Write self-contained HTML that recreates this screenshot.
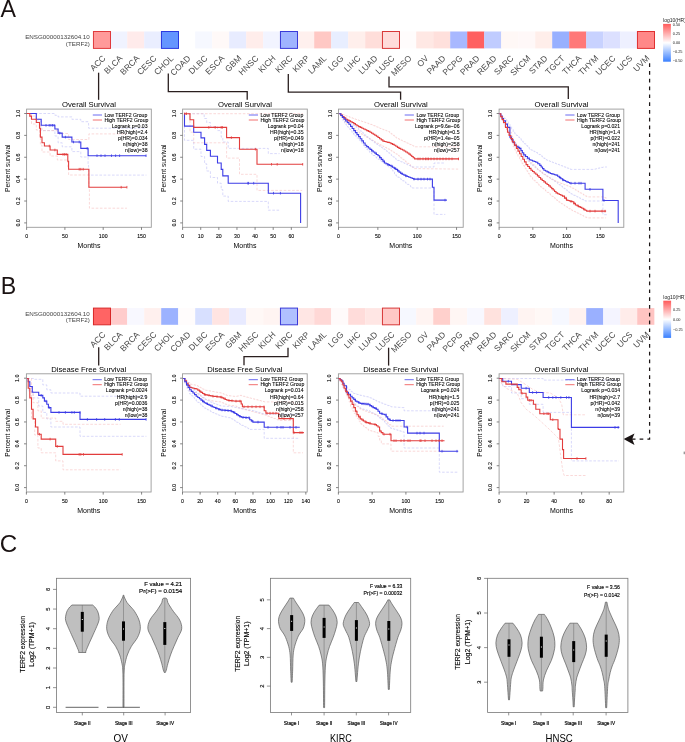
<!DOCTYPE html>
<html><head><meta charset="utf-8"><style>
html,body{margin:0;padding:0;background:#fff;width:685px;height:742px;overflow:hidden}
svg{display:block;font-family:"Liberation Sans", sans-serif;filter:blur(0.3px)}
</style></head><body>
<svg width="685" height="742" viewBox="0 0 685 742">
<rect width="685" height="742" fill="#fff"/>
<text x="0.6" y="16.6" font-size="23.2" fill="#1a1212">A</text>
<text x="0.8" y="293.9" font-size="23.2" fill="#1a1212">B</text>
<text x="-0.2" y="552.4" font-size="24.2" fill="#1a1212">C</text>
<rect x="93.2" y="31.5" width="17.15" height="16.9" fill="#FF9A9A"/>
<rect x="110.2" y="31.5" width="17.15" height="16.9" fill="#F0F3FF"/>
<rect x="127.2" y="31.5" width="17.15" height="16.9" fill="#FFEBEB"/>
<rect x="144.2" y="31.5" width="17.15" height="16.9" fill="#EAEEFF"/>
<rect x="161.2" y="31.5" width="17.15" height="16.9" fill="#6495FF"/>
<rect x="178.2" y="31.5" width="17.15" height="16.9" fill="#FFFFFF"/>
<rect x="195.2" y="31.5" width="17.15" height="16.9" fill="#F6F8FF"/>
<rect x="212.2" y="31.5" width="17.15" height="16.9" fill="#FFF9F8"/>
<rect x="229.2" y="31.5" width="17.15" height="16.9" fill="#E8ECFF"/>
<rect x="246.2" y="31.5" width="17.15" height="16.9" fill="#FFEDEB"/>
<rect x="263.2" y="31.5" width="17.15" height="16.9" fill="#F2F4FF"/>
<rect x="280.2" y="31.5" width="17.15" height="16.9" fill="#A0B4FF"/>
<rect x="297.2" y="31.5" width="17.15" height="16.9" fill="#FFF0EE"/>
<rect x="314.2" y="31.5" width="17.15" height="16.9" fill="#FFC8C4"/>
<rect x="331.2" y="31.5" width="17.15" height="16.9" fill="#E8EEFF"/>
<rect x="348.2" y="31.5" width="17.15" height="16.9" fill="#FFEFEC"/>
<rect x="365.2" y="31.5" width="17.15" height="16.9" fill="#FFDEDA"/>
<rect x="382.2" y="31.5" width="17.15" height="16.9" fill="#FFDCDA"/>
<rect x="399.2" y="31.5" width="17.15" height="16.9" fill="#FFFCFC"/>
<rect x="416.2" y="31.5" width="17.15" height="16.9" fill="#FFE8E4"/>
<rect x="433.2" y="31.5" width="17.15" height="16.9" fill="#FFE0DC"/>
<rect x="450.2" y="31.5" width="17.15" height="16.9" fill="#A8B8FF"/>
<rect x="467.2" y="31.5" width="17.15" height="16.9" fill="#FF6060"/>
<rect x="484.2" y="31.5" width="17.15" height="16.9" fill="#C0CCFF"/>
<rect x="501.2" y="31.5" width="17.15" height="16.9" fill="#FFF8F6"/>
<rect x="518.2" y="31.5" width="17.15" height="16.9" fill="#FFF8F8"/>
<rect x="535.2" y="31.5" width="17.15" height="16.9" fill="#FFEEEA"/>
<rect x="552.2" y="31.5" width="17.15" height="16.9" fill="#98B0FF"/>
<rect x="569.2" y="31.5" width="17.15" height="16.9" fill="#FF7878"/>
<rect x="586.2" y="31.5" width="17.15" height="16.9" fill="#C8D2FF"/>
<rect x="603.2" y="31.5" width="17.15" height="16.9" fill="#DCE0FF"/>
<rect x="620.2" y="31.5" width="17.15" height="16.9" fill="#EEF0FF"/>
<rect x="637.2" y="31.5" width="17.15" height="16.9" fill="#FF8888"/>
<rect x="93.45" y="31.5" width="17.05" height="16.9" fill="none" stroke="#E03A3C" stroke-width="1.0"/>
<rect x="161.45" y="31.5" width="17.05" height="16.9" fill="none" stroke="#2A3AE0" stroke-width="1.0"/>
<rect x="280.45" y="31.5" width="17.05" height="16.9" fill="none" stroke="#3A3AD8" stroke-width="1.0"/>
<rect x="382.45" y="31.5" width="17.05" height="16.9" fill="none" stroke="#D83838" stroke-width="1.0"/>
<rect x="637.45" y="31.5" width="17.05" height="16.9" fill="none" stroke="#E03030" stroke-width="1.0"/>
<text x="106.1" y="58.8" font-size="8.5" text-anchor="end" fill="#4a4a4a" transform="rotate(-45 106.1 58.8)">ACC</text>
<text x="123.1" y="58.8" font-size="8.5" text-anchor="end" fill="#4a4a4a" transform="rotate(-45 123.1 58.8)">BLCA</text>
<text x="140.1" y="58.8" font-size="8.5" text-anchor="end" fill="#4a4a4a" transform="rotate(-45 140.1 58.8)">BRCA</text>
<text x="157.1" y="58.8" font-size="8.5" text-anchor="end" fill="#4a4a4a" transform="rotate(-45 157.1 58.8)">CESC</text>
<text x="174.1" y="58.8" font-size="8.5" text-anchor="end" fill="#4a4a4a" transform="rotate(-45 174.1 58.8)">CHOL</text>
<text x="191.1" y="58.8" font-size="8.5" text-anchor="end" fill="#4a4a4a" transform="rotate(-45 191.1 58.8)">COAD</text>
<text x="208.1" y="58.8" font-size="8.5" text-anchor="end" fill="#4a4a4a" transform="rotate(-45 208.1 58.8)">DLBC</text>
<text x="225.1" y="58.8" font-size="8.5" text-anchor="end" fill="#4a4a4a" transform="rotate(-45 225.1 58.8)">ESCA</text>
<text x="242.1" y="58.8" font-size="8.5" text-anchor="end" fill="#4a4a4a" transform="rotate(-45 242.1 58.8)">GBM</text>
<text x="259.1" y="58.8" font-size="8.5" text-anchor="end" fill="#4a4a4a" transform="rotate(-45 259.1 58.8)">HNSC</text>
<text x="276.1" y="58.8" font-size="8.5" text-anchor="end" fill="#4a4a4a" transform="rotate(-45 276.1 58.8)">KICH</text>
<text x="293.1" y="58.8" font-size="8.5" text-anchor="end" fill="#4a4a4a" transform="rotate(-45 293.1 58.8)">KIRC</text>
<text x="310.1" y="58.8" font-size="8.5" text-anchor="end" fill="#4a4a4a" transform="rotate(-45 310.1 58.8)">KIRP</text>
<text x="327.1" y="58.8" font-size="8.5" text-anchor="end" fill="#4a4a4a" transform="rotate(-45 327.1 58.8)">LAML</text>
<text x="344.1" y="58.8" font-size="8.5" text-anchor="end" fill="#4a4a4a" transform="rotate(-45 344.1 58.8)">LGG</text>
<text x="361.1" y="58.8" font-size="8.5" text-anchor="end" fill="#4a4a4a" transform="rotate(-45 361.1 58.8)">LIHC</text>
<text x="378.1" y="58.8" font-size="8.5" text-anchor="end" fill="#4a4a4a" transform="rotate(-45 378.1 58.8)">LUAD</text>
<text x="395.1" y="58.8" font-size="8.5" text-anchor="end" fill="#4a4a4a" transform="rotate(-45 395.1 58.8)">LUSC</text>
<text x="412.1" y="58.8" font-size="8.5" text-anchor="end" fill="#4a4a4a" transform="rotate(-45 412.1 58.8)">MESO</text>
<text x="429.1" y="58.8" font-size="8.5" text-anchor="end" fill="#4a4a4a" transform="rotate(-45 429.1 58.8)">OV</text>
<text x="446.1" y="58.8" font-size="8.5" text-anchor="end" fill="#4a4a4a" transform="rotate(-45 446.1 58.8)">PAAD</text>
<text x="463.1" y="58.8" font-size="8.5" text-anchor="end" fill="#4a4a4a" transform="rotate(-45 463.1 58.8)">PCPG</text>
<text x="480.1" y="58.8" font-size="8.5" text-anchor="end" fill="#4a4a4a" transform="rotate(-45 480.1 58.8)">PRAD</text>
<text x="497.1" y="58.8" font-size="8.5" text-anchor="end" fill="#4a4a4a" transform="rotate(-45 497.1 58.8)">READ</text>
<text x="514.1" y="58.8" font-size="8.5" text-anchor="end" fill="#4a4a4a" transform="rotate(-45 514.1 58.8)">SARC</text>
<text x="531.1" y="58.8" font-size="8.5" text-anchor="end" fill="#4a4a4a" transform="rotate(-45 531.1 58.8)">SKCM</text>
<text x="548.1" y="58.8" font-size="8.5" text-anchor="end" fill="#4a4a4a" transform="rotate(-45 548.1 58.8)">STAD</text>
<text x="565.1" y="58.8" font-size="8.5" text-anchor="end" fill="#4a4a4a" transform="rotate(-45 565.1 58.8)">TGCT</text>
<text x="582.1" y="58.8" font-size="8.5" text-anchor="end" fill="#4a4a4a" transform="rotate(-45 582.1 58.8)">THCA</text>
<text x="599.1" y="58.8" font-size="8.5" text-anchor="end" fill="#4a4a4a" transform="rotate(-45 599.1 58.8)">THYM</text>
<text x="616.1" y="58.8" font-size="8.5" text-anchor="end" fill="#4a4a4a" transform="rotate(-45 616.1 58.8)">UCEC</text>
<text x="633.1" y="58.8" font-size="8.5" text-anchor="end" fill="#4a4a4a" transform="rotate(-45 633.1 58.8)">UCS</text>
<text x="650.1" y="58.8" font-size="8.5" text-anchor="end" fill="#4a4a4a" transform="rotate(-45 650.1 58.8)">UVM</text>
<text x="89.8" y="39.2" font-size="6.25" text-anchor="end" fill="#444">ENSG00000132604.10</text>
<text x="89.8" y="45.7" font-size="6.25" text-anchor="end" fill="#444">(TERF2)</text>
<rect x="93.2" y="308.1" width="17.15" height="16.7" fill="#FF6464"/>
<rect x="110.2" y="308.1" width="17.15" height="16.7" fill="#FFCCCC"/>
<rect x="127.2" y="308.1" width="17.15" height="16.7" fill="#F8F8FF"/>
<rect x="144.2" y="308.1" width="17.15" height="16.7" fill="#FFF0EE"/>
<rect x="161.2" y="308.1" width="17.15" height="16.7" fill="#9CB2FF"/>
<rect x="178.2" y="308.1" width="17.15" height="16.7" fill="#FFFCFC"/>
<rect x="195.2" y="308.1" width="17.15" height="16.7" fill="#D8E0FF"/>
<rect x="212.2" y="308.1" width="17.15" height="16.7" fill="#FFE4E2"/>
<rect x="229.2" y="308.1" width="17.15" height="16.7" fill="#E8EAFF"/>
<rect x="246.2" y="308.1" width="17.15" height="16.7" fill="#FFF8F6"/>
<rect x="263.2" y="308.1" width="17.15" height="16.7" fill="#FFF4F2"/>
<rect x="280.2" y="308.1" width="17.15" height="16.7" fill="#B0C0FF"/>
<rect x="297.2" y="308.1" width="17.15" height="16.7" fill="#FFE6E4"/>
<rect x="314.2" y="308.1" width="17.15" height="16.7" fill="#FFD8D6"/>
<rect x="331.2" y="308.1" width="17.15" height="16.7" fill="#FFFAFA"/>
<rect x="348.2" y="308.1" width="17.15" height="16.7" fill="#FFDCDA"/>
<rect x="365.2" y="308.1" width="17.15" height="16.7" fill="#FFE6E4"/>
<rect x="382.2" y="308.1" width="17.15" height="16.7" fill="#FFC8C6"/>
<rect x="399.2" y="308.1" width="17.15" height="16.7" fill="#F6F8FF"/>
<rect x="416.2" y="308.1" width="17.15" height="16.7" fill="#FFF4F2"/>
<rect x="433.2" y="308.1" width="17.15" height="16.7" fill="#FFD0CC"/>
<rect x="450.2" y="308.1" width="17.15" height="16.7" fill="#FFF6F4"/>
<rect x="467.2" y="308.1" width="17.15" height="16.7" fill="#F8F8FF"/>
<rect x="484.2" y="308.1" width="17.15" height="16.7" fill="#FFE2DE"/>
<rect x="501.2" y="308.1" width="17.15" height="16.7" fill="#EEF0FF"/>
<rect x="518.2" y="308.1" width="17.15" height="16.7" fill="#FFF4F2"/>
<rect x="535.2" y="308.1" width="17.15" height="16.7" fill="#FFF8F6"/>
<rect x="552.2" y="308.1" width="17.15" height="16.7" fill="#F6F8FF"/>
<rect x="569.2" y="308.1" width="17.15" height="16.7" fill="#FFF2F0"/>
<rect x="586.2" y="308.1" width="17.15" height="16.7" fill="#9AB0FF"/>
<rect x="603.2" y="308.1" width="17.15" height="16.7" fill="#F4F4FF"/>
<rect x="620.2" y="308.1" width="17.15" height="16.7" fill="#FFECEA"/>
<rect x="637.2" y="308.1" width="17.15" height="16.7" fill="#FFC4C2"/>
<rect x="93.45" y="308.1" width="17.05" height="16.7" fill="none" stroke="#D82828" stroke-width="1.0"/>
<rect x="280.45" y="308.1" width="17.05" height="16.7" fill="none" stroke="#3A3AD8" stroke-width="1.0"/>
<rect x="382.45" y="308.1" width="17.05" height="16.7" fill="none" stroke="#D83838" stroke-width="1.0"/>
<text x="106.1" y="335.2" font-size="8.5" text-anchor="end" fill="#4a4a4a" transform="rotate(-45 106.1 335.2)">ACC</text>
<text x="123.1" y="335.2" font-size="8.5" text-anchor="end" fill="#4a4a4a" transform="rotate(-45 123.1 335.2)">BLCA</text>
<text x="140.1" y="335.2" font-size="8.5" text-anchor="end" fill="#4a4a4a" transform="rotate(-45 140.1 335.2)">BRCA</text>
<text x="157.1" y="335.2" font-size="8.5" text-anchor="end" fill="#4a4a4a" transform="rotate(-45 157.1 335.2)">CESC</text>
<text x="174.1" y="335.2" font-size="8.5" text-anchor="end" fill="#4a4a4a" transform="rotate(-45 174.1 335.2)">CHOL</text>
<text x="191.1" y="335.2" font-size="8.5" text-anchor="end" fill="#4a4a4a" transform="rotate(-45 191.1 335.2)">COAD</text>
<text x="208.1" y="335.2" font-size="8.5" text-anchor="end" fill="#4a4a4a" transform="rotate(-45 208.1 335.2)">DLBC</text>
<text x="225.1" y="335.2" font-size="8.5" text-anchor="end" fill="#4a4a4a" transform="rotate(-45 225.1 335.2)">ESCA</text>
<text x="242.1" y="335.2" font-size="8.5" text-anchor="end" fill="#4a4a4a" transform="rotate(-45 242.1 335.2)">GBM</text>
<text x="259.1" y="335.2" font-size="8.5" text-anchor="end" fill="#4a4a4a" transform="rotate(-45 259.1 335.2)">HNSC</text>
<text x="276.1" y="335.2" font-size="8.5" text-anchor="end" fill="#4a4a4a" transform="rotate(-45 276.1 335.2)">KICH</text>
<text x="293.1" y="335.2" font-size="8.5" text-anchor="end" fill="#4a4a4a" transform="rotate(-45 293.1 335.2)">KIRC</text>
<text x="310.1" y="335.2" font-size="8.5" text-anchor="end" fill="#4a4a4a" transform="rotate(-45 310.1 335.2)">KIRP</text>
<text x="327.1" y="335.2" font-size="8.5" text-anchor="end" fill="#4a4a4a" transform="rotate(-45 327.1 335.2)">LAML</text>
<text x="344.1" y="335.2" font-size="8.5" text-anchor="end" fill="#4a4a4a" transform="rotate(-45 344.1 335.2)">LGG</text>
<text x="361.1" y="335.2" font-size="8.5" text-anchor="end" fill="#4a4a4a" transform="rotate(-45 361.1 335.2)">LIHC</text>
<text x="378.1" y="335.2" font-size="8.5" text-anchor="end" fill="#4a4a4a" transform="rotate(-45 378.1 335.2)">LUAD</text>
<text x="395.1" y="335.2" font-size="8.5" text-anchor="end" fill="#4a4a4a" transform="rotate(-45 395.1 335.2)">LUSC</text>
<text x="412.1" y="335.2" font-size="8.5" text-anchor="end" fill="#4a4a4a" transform="rotate(-45 412.1 335.2)">MESO</text>
<text x="429.1" y="335.2" font-size="8.5" text-anchor="end" fill="#4a4a4a" transform="rotate(-45 429.1 335.2)">OV</text>
<text x="446.1" y="335.2" font-size="8.5" text-anchor="end" fill="#4a4a4a" transform="rotate(-45 446.1 335.2)">PAAD</text>
<text x="463.1" y="335.2" font-size="8.5" text-anchor="end" fill="#4a4a4a" transform="rotate(-45 463.1 335.2)">PCPG</text>
<text x="480.1" y="335.2" font-size="8.5" text-anchor="end" fill="#4a4a4a" transform="rotate(-45 480.1 335.2)">PRAD</text>
<text x="497.1" y="335.2" font-size="8.5" text-anchor="end" fill="#4a4a4a" transform="rotate(-45 497.1 335.2)">READ</text>
<text x="514.1" y="335.2" font-size="8.5" text-anchor="end" fill="#4a4a4a" transform="rotate(-45 514.1 335.2)">SARC</text>
<text x="531.1" y="335.2" font-size="8.5" text-anchor="end" fill="#4a4a4a" transform="rotate(-45 531.1 335.2)">SKCM</text>
<text x="548.1" y="335.2" font-size="8.5" text-anchor="end" fill="#4a4a4a" transform="rotate(-45 548.1 335.2)">STAD</text>
<text x="565.1" y="335.2" font-size="8.5" text-anchor="end" fill="#4a4a4a" transform="rotate(-45 565.1 335.2)">TGCT</text>
<text x="582.1" y="335.2" font-size="8.5" text-anchor="end" fill="#4a4a4a" transform="rotate(-45 582.1 335.2)">THCA</text>
<text x="599.1" y="335.2" font-size="8.5" text-anchor="end" fill="#4a4a4a" transform="rotate(-45 599.1 335.2)">THYM</text>
<text x="616.1" y="335.2" font-size="8.5" text-anchor="end" fill="#4a4a4a" transform="rotate(-45 616.1 335.2)">UCEC</text>
<text x="633.1" y="335.2" font-size="8.5" text-anchor="end" fill="#4a4a4a" transform="rotate(-45 633.1 335.2)">UCS</text>
<text x="650.1" y="335.2" font-size="8.5" text-anchor="end" fill="#4a4a4a" transform="rotate(-45 650.1 335.2)">UVM</text>
<text x="89.8" y="315.8" font-size="6.25" text-anchor="end" fill="#444">ENSG00000132604.10</text>
<text x="89.8" y="322.3" font-size="6.25" text-anchor="end" fill="#444">(TERF2)</text>
<defs><linearGradient id="lg23" x1="0" y1="0" x2="0" y2="1"><stop offset="0" stop-color="#FF5A5A"/><stop offset="0.5" stop-color="#FFFFFF"/><stop offset="1" stop-color="#3A80FF"/></linearGradient></defs>
<rect x="663.1" y="23.9" width="7.8" height="37.8" fill="url(#lg23)"/>
<text x="672.7" y="26.1" font-size="3.9" fill="#222">0.50</text>
<text x="672.7" y="35.2" font-size="3.9" fill="#222">0.25</text>
<text x="672.7" y="44.1" font-size="3.9" fill="#222">0.00</text>
<text x="672.7" y="53" font-size="3.9" fill="#222">−0.25</text>
<text x="672.7" y="61.9" font-size="3.9" fill="#222">−0.50</text>
<text x="663.1" y="21.7" font-size="5" fill="#222">log10(HR)</text>
<defs><linearGradient id="lg300" x1="0" y1="0" x2="0" y2="1"><stop offset="0" stop-color="#FF5A5A"/><stop offset="0.5" stop-color="#FFFFFF"/><stop offset="1" stop-color="#3A80FF"/></linearGradient></defs>
<rect x="663.3" y="300.7" width="7.8" height="37.2" fill="url(#lg300)"/>
<text x="672.9" y="310.8" font-size="3.9" fill="#222">0.25</text>
<text x="672.9" y="320.6" font-size="3.9" fill="#222">0.00</text>
<text x="672.9" y="330.7" font-size="3.9" fill="#222">−0.25</text>
<text x="663.3" y="298.5" font-size="5" fill="#222">log10(HR)</text>
<polyline points="98.6,72.7 98.6,99.8" fill="none" stroke="#2a1f1f" stroke-width="1.3"/>
<polyline points="168.3,73.4 168.3,91.6 247.2,91.6 247.2,99.8" fill="none" stroke="#2a1f1f" stroke-width="1.3"/>
<polyline points="288.3,74 288.3,92.2 400.6,92.2 400.6,99.8" fill="none" stroke="#2a1f1f" stroke-width="1.3"/>
<polyline points="389,76.4 389,86.9 568.3,86.9 568.3,99" fill="none" stroke="#2a1f1f" stroke-width="1.3"/>
<polyline points="98.7,347.3 98.7,365.4" fill="none" stroke="#2a1f1f" stroke-width="1.3"/>
<polyline points="288,347.7 288,356.6 244,356.6 244,365.2" fill="none" stroke="#2a1f1f" stroke-width="1.3"/>
<polyline points="388.6,347.7 388.6,365.6" fill="none" stroke="#2a1f1f" stroke-width="1.3"/>
<polyline points="649.6,63.2 649.6,439.1 631,439.1" fill="none" stroke="#1a1414" stroke-width="1.25" stroke-dasharray="3.7,4.1"/>
<path d="M623.6,439.1 L634.5,433.4 L632.2,439.1 L634.5,445 Z" fill="#1a1414"/>
<rect x="26.6" y="109.1" width="124.7" height="118.2" fill="none" stroke="#9a9a9a" stroke-width="0.9"/>
<polyline points="26.6,113.5 54.9,113.5 54.9,115.3 58.1,115.3 58.1,116.9 71.9,116.9 71.9,119.3 80.8,119.3 80.8,121.7 88.1,121.7 88.1,123.4 88.6,123.4 88.6,128.2 146,128.2" fill="none" stroke="#c0c0f6" stroke-width="0.6" stroke-dasharray="2.6,1.6"/>
<polyline points="26.6,113.5 36.3,113.5 36.3,121 41.2,121 41.2,130.6 54.9,130.6 54.9,136 58.1,136 58.1,142.8 62.2,142.8 62.2,146.8 71.9,146.8 71.9,151.6 80.8,151.6 80.8,157 88.1,157 88.1,165.4 88.6,165.4 88.6,175.1 146.4,175.1" fill="none" stroke="#c0c0f6" stroke-width="0.6" stroke-dasharray="2.6,1.6"/>
<polyline points="26.6,113.5 31.5,113.5 31.5,116 36.3,116 36.3,119 39.5,119 39.5,124 40.4,124 40.4,128 42,128 42,130.6 57.3,130.6 57.3,133.5 68.6,133.5 68.6,139.5 88.9,139.5 88.9,133.9 126.9,133.9" fill="none" stroke="#f6c0c0" stroke-width="0.6" stroke-dasharray="2.6,1.6"/>
<polyline points="26.6,113.5 29.8,113.5 29.8,118 31.5,118 31.5,124 36.3,124 36.3,130 39.5,130 39.5,137 40.4,137 40.4,145 42,145 42,152 50.1,152 50.1,156 57.3,156 57.3,160 67.8,160 67.8,167 68.6,167 68.6,175 88.9,175 88.9,188 89.4,188 89.4,208.2 126.9,208.2" fill="none" stroke="#f6c0c0" stroke-width="0.6" stroke-dasharray="2.6,1.6"/>
<polyline points="26.6,113.5 36.3,113.5 36.3,119.3 41.2,119.3 41.2,125.3 54.9,125.3 54.9,129 58.1,129 58.1,133.1 62.2,133.1 62.2,137.1 71.9,137.1 71.9,142 80.8,142 80.8,148.4 88.1,148.4 88.1,155.7 146.2,155.7" fill="none" stroke="#3c3ce6" stroke-width="1.1"/>
<polyline points="26.6,113.5 29.8,113.5 29.8,116.1 31.5,116.1 31.5,119.3 36.3,119.3 36.3,122.5 39.5,122.5 39.5,128.2 40.4,128.2 40.4,137.1 42,137.1 42,142.8 44.4,142.8 44.4,146 50.1,146 50.1,150 57.3,150 57.3,154.4 67.8,154.4 67.8,161.3 68.6,161.3 68.6,169.2 88.9,169.2 88.9,187.2 126.9,187.2" fill="none" stroke="#e23c3c" stroke-width="1.1"/>
<line x1="46" y1="124" x2="46" y2="126.6" stroke="#3c3ce6" stroke-width="0.8"/>
<line x1="49.2" y1="124" x2="49.2" y2="126.6" stroke="#3c3ce6" stroke-width="0.8"/>
<line x1="50.9" y1="124" x2="50.9" y2="126.6" stroke="#3c3ce6" stroke-width="0.8"/>
<line x1="52.5" y1="124" x2="52.5" y2="126.6" stroke="#3c3ce6" stroke-width="0.8"/>
<line x1="54.1" y1="124" x2="54.1" y2="126.6" stroke="#3c3ce6" stroke-width="0.8"/>
<line x1="59.8" y1="131.8" x2="59.8" y2="134.4" stroke="#3c3ce6" stroke-width="0.8"/>
<line x1="65.4" y1="135.8" x2="65.4" y2="138.4" stroke="#3c3ce6" stroke-width="0.8"/>
<line x1="73.5" y1="140.7" x2="73.5" y2="143.3" stroke="#3c3ce6" stroke-width="0.8"/>
<line x1="79.2" y1="140.7" x2="79.2" y2="143.3" stroke="#3c3ce6" stroke-width="0.8"/>
<line x1="87.2" y1="147.1" x2="87.2" y2="149.7" stroke="#3c3ce6" stroke-width="0.8"/>
<line x1="97" y1="154.4" x2="97" y2="157" stroke="#3c3ce6" stroke-width="0.8"/>
<line x1="101" y1="154.4" x2="101" y2="157" stroke="#3c3ce6" stroke-width="0.8"/>
<line x1="105" y1="154.4" x2="105" y2="157" stroke="#3c3ce6" stroke-width="0.8"/>
<line x1="111.5" y1="154.4" x2="111.5" y2="157" stroke="#3c3ce6" stroke-width="0.8"/>
<line x1="115.6" y1="154.4" x2="115.6" y2="157" stroke="#3c3ce6" stroke-width="0.8"/>
<line x1="119.6" y1="154.4" x2="119.6" y2="157" stroke="#3c3ce6" stroke-width="0.8"/>
<line x1="146" y1="154.4" x2="146" y2="157" stroke="#3c3ce6" stroke-width="0.8"/>
<line x1="49.3" y1="144.7" x2="49.3" y2="147.3" stroke="#e23c3c" stroke-width="0.8"/>
<line x1="54.9" y1="148.7" x2="54.9" y2="151.3" stroke="#e23c3c" stroke-width="0.8"/>
<line x1="63" y1="153.1" x2="63" y2="155.7" stroke="#e23c3c" stroke-width="0.8"/>
<line x1="64.6" y1="153.1" x2="64.6" y2="155.7" stroke="#e23c3c" stroke-width="0.8"/>
<line x1="66.2" y1="153.1" x2="66.2" y2="155.7" stroke="#e23c3c" stroke-width="0.8"/>
<line x1="79.2" y1="167.9" x2="79.2" y2="170.5" stroke="#e23c3c" stroke-width="0.8"/>
<line x1="80.8" y1="167.9" x2="80.8" y2="170.5" stroke="#e23c3c" stroke-width="0.8"/>
<line x1="83.2" y1="167.9" x2="83.2" y2="170.5" stroke="#e23c3c" stroke-width="0.8"/>
<line x1="121.2" y1="185.9" x2="121.2" y2="188.5" stroke="#e23c3c" stroke-width="0.8"/>
<line x1="126.9" y1="185.9" x2="126.9" y2="188.5" stroke="#e23c3c" stroke-width="0.8"/>
<line x1="24.2" y1="222.9" x2="26.6" y2="222.9" stroke="#666" stroke-width="0.8"/>
<text x="19.7" y="222.9" font-size="5.3" text-anchor="middle" transform="rotate(-90 19.7 222.9)" stroke="#111" stroke-width="0.1">0.0</text>
<line x1="24.2" y1="201.02" x2="26.6" y2="201.02" stroke="#666" stroke-width="0.8"/>
<text x="19.7" y="201.02" font-size="5.3" text-anchor="middle" transform="rotate(-90 19.7 201.02)" stroke="#111" stroke-width="0.1">0.2</text>
<line x1="24.2" y1="179.14" x2="26.6" y2="179.14" stroke="#666" stroke-width="0.8"/>
<text x="19.7" y="179.14" font-size="5.3" text-anchor="middle" transform="rotate(-90 19.7 179.14)" stroke="#111" stroke-width="0.1">0.4</text>
<line x1="24.2" y1="157.26" x2="26.6" y2="157.26" stroke="#666" stroke-width="0.8"/>
<text x="19.7" y="157.26" font-size="5.3" text-anchor="middle" transform="rotate(-90 19.7 157.26)" stroke="#111" stroke-width="0.1">0.6</text>
<line x1="24.2" y1="135.38" x2="26.6" y2="135.38" stroke="#666" stroke-width="0.8"/>
<text x="19.7" y="135.38" font-size="5.3" text-anchor="middle" transform="rotate(-90 19.7 135.38)" stroke="#111" stroke-width="0.1">0.8</text>
<line x1="24.2" y1="113.5" x2="26.6" y2="113.5" stroke="#666" stroke-width="0.8"/>
<text x="19.7" y="113.5" font-size="5.3" text-anchor="middle" transform="rotate(-90 19.7 113.5)" stroke="#111" stroke-width="0.1">1.0</text>
<line x1="26.6" y1="227.3" x2="26.6" y2="229.9" stroke="#666" stroke-width="0.8"/>
<text x="26.6" y="238.4" font-size="5.2" text-anchor="middle" stroke="#111" stroke-width="0.1">0</text>
<line x1="64.9" y1="227.3" x2="64.9" y2="229.9" stroke="#666" stroke-width="0.8"/>
<text x="64.9" y="238.4" font-size="5.2" text-anchor="middle" stroke="#111" stroke-width="0.1">50</text>
<line x1="103.2" y1="227.3" x2="103.2" y2="229.9" stroke="#666" stroke-width="0.8"/>
<text x="103.2" y="238.4" font-size="5.2" text-anchor="middle" stroke="#111" stroke-width="0.1">100</text>
<line x1="141.5" y1="227.3" x2="141.5" y2="229.9" stroke="#666" stroke-width="0.8"/>
<text x="141.5" y="238.4" font-size="5.2" text-anchor="middle" stroke="#111" stroke-width="0.1">150</text>
<text x="88.95" y="248" font-size="7" text-anchor="middle" fill="#000">Months</text>
<text x="9.9" y="168.2" font-size="6.7" text-anchor="middle" fill="#000" transform="rotate(-90 9.9 168.2)">Percent survival</text>
<text x="88.95" y="106.8" font-size="7.7" text-anchor="middle">Overall Survival</text>
<line x1="92.8" y1="115" x2="102" y2="115" stroke="#5a5af0" stroke-width="0.9"/>
<line x1="92.8" y1="120" x2="102" y2="120" stroke="#f06060" stroke-width="0.9"/>
<text x="104.5" y="116.7" font-size="5.15" fill="#000" stroke="#000" stroke-width="0.08">Low TERF2 Group</text>
<text x="104.5" y="121.7" font-size="5.15" fill="#000" stroke="#000" stroke-width="0.08">High TERF2 Group</text>
<text x="147.6" y="127.7" font-size="5.15" text-anchor="end" fill="#000" stroke="#000" stroke-width="0.08">Logrank p=0.03</text>
<text x="147.6" y="133.8" font-size="5.15" text-anchor="end" fill="#000" stroke="#000" stroke-width="0.08">HR(high)=2.4</text>
<text x="147.6" y="139.9" font-size="5.15" text-anchor="end" fill="#000" stroke="#000" stroke-width="0.08">p(HR)=0.034</text>
<text x="147.6" y="146" font-size="5.15" text-anchor="end" fill="#000" stroke="#000" stroke-width="0.08">n(high)=38</text>
<text x="147.6" y="152.1" font-size="5.15" text-anchor="end" fill="#000" stroke="#000" stroke-width="0.08">n(low)=38</text>
<rect x="182.6" y="109.1" width="124.7" height="118.2" fill="none" stroke="#9a9a9a" stroke-width="0.9"/>
<polyline points="184,113.7 204.2,113.7 204.2,118.5 206.7,118.5 206.7,122.5 210.4,122.5 210.4,126.6 217.5,126.6 217.5,130.6 221.2,130.6 221.2,137.1 222.8,137.1 222.8,142 228.2,142 228.2,148.4 268.3,148.4 268.3,153.6 279.6,153.6" fill="none" stroke="#c0c0f6" stroke-width="0.6" stroke-dasharray="2.6,1.6"/>
<polyline points="184,113.7 184.5,113.7 184.5,140.3 193.7,140.3 193.7,149.2 201,149.2 201,156.5 204.6,156.5 204.6,163.8 206.7,163.8 206.7,171 210.4,171 210.4,177.5 217.5,177.5 217.5,183.2 221.2,183.2 221.2,189.6 222.8,189.6 222.8,196.1 228.2,196.1 228.2,201.4 268.3,201.4 268.3,210.2 279.6,210.2" fill="none" stroke="#c0c0f6" stroke-width="0.6" stroke-dasharray="2.6,1.6"/>
<polyline points="184,113.7 303,113.7" fill="none" stroke="#f6c0c0" stroke-width="0.6" stroke-dasharray="2.6,1.6"/>
<polyline points="184,113.7 190,113.7 190,132.2 193.7,132.2 193.7,142.8 226.6,142.8 226.6,158.1 239.5,158.1 239.5,174.3 257,174.3 257,190.4 302.2,190.4" fill="none" stroke="#f6c0c0" stroke-width="0.6" stroke-dasharray="2.6,1.6"/>
<polyline points="184,113.7 184.5,113.7 184.5,126.1 193.7,126.1 193.7,132.2 201,132.2 201,137.9 204.6,137.9 204.6,144.4 206.7,144.4 206.7,150.4 210.4,150.4 210.4,156.2 217.5,156.2 217.5,163 221.2,163 221.2,169.4 222.8,169.4 222.8,175.9 228.2,175.9 228.2,183.2 268.3,183.2 268.3,193.2 300.6,193.2 300.6,223.1 300.6,223.1" fill="none" stroke="#3c3ce6" stroke-width="1.1"/>
<polyline points="184,113.7 190,113.7 190,119.8 193.7,119.8 193.7,127.4 226.6,127.4 226.6,137.6 239.5,137.6 239.5,149.2 257,149.2 257,164.3 303,164.3" fill="none" stroke="#e23c3c" stroke-width="1.1"/>
<line x1="184.8" y1="112.4" x2="184.8" y2="115" stroke="#e23c3c" stroke-width="0.8"/>
<line x1="186.5" y1="112.4" x2="186.5" y2="115" stroke="#e23c3c" stroke-width="0.8"/>
<line x1="208.8" y1="126.1" x2="208.8" y2="128.7" stroke="#e23c3c" stroke-width="0.8"/>
<line x1="215.2" y1="126.1" x2="215.2" y2="128.7" stroke="#e23c3c" stroke-width="0.8"/>
<line x1="221.2" y1="126.1" x2="221.2" y2="128.7" stroke="#e23c3c" stroke-width="0.8"/>
<line x1="222.4" y1="126.1" x2="222.4" y2="128.7" stroke="#e23c3c" stroke-width="0.8"/>
<line x1="231.4" y1="136.3" x2="231.4" y2="138.9" stroke="#e23c3c" stroke-width="0.8"/>
<line x1="255.4" y1="147.9" x2="255.4" y2="150.5" stroke="#e23c3c" stroke-width="0.8"/>
<line x1="271.5" y1="163" x2="271.5" y2="165.6" stroke="#e23c3c" stroke-width="0.8"/>
<line x1="277.2" y1="163" x2="277.2" y2="165.6" stroke="#e23c3c" stroke-width="0.8"/>
<line x1="302.7" y1="163" x2="302.7" y2="165.6" stroke="#e23c3c" stroke-width="0.8"/>
<line x1="247.9" y1="181.9" x2="247.9" y2="184.5" stroke="#3c3ce6" stroke-width="0.8"/>
<line x1="248.4" y1="181.9" x2="248.4" y2="184.5" stroke="#3c3ce6" stroke-width="0.8"/>
<line x1="253.7" y1="181.9" x2="253.7" y2="184.5" stroke="#3c3ce6" stroke-width="0.8"/>
<line x1="273.5" y1="191.9" x2="273.5" y2="194.5" stroke="#3c3ce6" stroke-width="0.8"/>
<line x1="280.4" y1="191.9" x2="280.4" y2="194.5" stroke="#3c3ce6" stroke-width="0.8"/>
<line x1="180.2" y1="222.9" x2="182.6" y2="222.9" stroke="#666" stroke-width="0.8"/>
<text x="175.7" y="222.9" font-size="5.3" text-anchor="middle" transform="rotate(-90 175.7 222.9)" stroke="#111" stroke-width="0.1">0.0</text>
<line x1="180.2" y1="201.02" x2="182.6" y2="201.02" stroke="#666" stroke-width="0.8"/>
<text x="175.7" y="201.02" font-size="5.3" text-anchor="middle" transform="rotate(-90 175.7 201.02)" stroke="#111" stroke-width="0.1">0.2</text>
<line x1="180.2" y1="179.14" x2="182.6" y2="179.14" stroke="#666" stroke-width="0.8"/>
<text x="175.7" y="179.14" font-size="5.3" text-anchor="middle" transform="rotate(-90 175.7 179.14)" stroke="#111" stroke-width="0.1">0.4</text>
<line x1="180.2" y1="157.26" x2="182.6" y2="157.26" stroke="#666" stroke-width="0.8"/>
<text x="175.7" y="157.26" font-size="5.3" text-anchor="middle" transform="rotate(-90 175.7 157.26)" stroke="#111" stroke-width="0.1">0.6</text>
<line x1="180.2" y1="135.38" x2="182.6" y2="135.38" stroke="#666" stroke-width="0.8"/>
<text x="175.7" y="135.38" font-size="5.3" text-anchor="middle" transform="rotate(-90 175.7 135.38)" stroke="#111" stroke-width="0.1">0.8</text>
<line x1="180.2" y1="113.5" x2="182.6" y2="113.5" stroke="#666" stroke-width="0.8"/>
<text x="175.7" y="113.5" font-size="5.3" text-anchor="middle" transform="rotate(-90 175.7 113.5)" stroke="#111" stroke-width="0.1">1.0</text>
<line x1="182.6" y1="227.3" x2="182.6" y2="229.9" stroke="#666" stroke-width="0.8"/>
<text x="182.6" y="238.4" font-size="5.2" text-anchor="middle" stroke="#111" stroke-width="0.1">0</text>
<line x1="200.72" y1="227.3" x2="200.72" y2="229.9" stroke="#666" stroke-width="0.8"/>
<text x="200.72" y="238.4" font-size="5.2" text-anchor="middle" stroke="#111" stroke-width="0.1">10</text>
<line x1="218.84" y1="227.3" x2="218.84" y2="229.9" stroke="#666" stroke-width="0.8"/>
<text x="218.84" y="238.4" font-size="5.2" text-anchor="middle" stroke="#111" stroke-width="0.1">20</text>
<line x1="236.96" y1="227.3" x2="236.96" y2="229.9" stroke="#666" stroke-width="0.8"/>
<text x="236.96" y="238.4" font-size="5.2" text-anchor="middle" stroke="#111" stroke-width="0.1">30</text>
<line x1="255.08" y1="227.3" x2="255.08" y2="229.9" stroke="#666" stroke-width="0.8"/>
<text x="255.08" y="238.4" font-size="5.2" text-anchor="middle" stroke="#111" stroke-width="0.1">40</text>
<line x1="273.2" y1="227.3" x2="273.2" y2="229.9" stroke="#666" stroke-width="0.8"/>
<text x="273.2" y="238.4" font-size="5.2" text-anchor="middle" stroke="#111" stroke-width="0.1">50</text>
<line x1="291.32" y1="227.3" x2="291.32" y2="229.9" stroke="#666" stroke-width="0.8"/>
<text x="291.32" y="238.4" font-size="5.2" text-anchor="middle" stroke="#111" stroke-width="0.1">60</text>
<text x="244.95" y="248" font-size="7" text-anchor="middle" fill="#000">Months</text>
<text x="165.9" y="168.2" font-size="6.7" text-anchor="middle" fill="#000" transform="rotate(-90 165.9 168.2)">Percent survival</text>
<text x="244.95" y="106.8" font-size="7.7" text-anchor="middle">Overall Survival</text>
<line x1="248.8" y1="115" x2="258" y2="115" stroke="#5a5af0" stroke-width="0.9"/>
<line x1="248.8" y1="120" x2="258" y2="120" stroke="#f06060" stroke-width="0.9"/>
<text x="260.5" y="116.7" font-size="5.15" fill="#000" stroke="#000" stroke-width="0.08">Low TERF2 Group</text>
<text x="260.5" y="121.7" font-size="5.15" fill="#000" stroke="#000" stroke-width="0.08">High TERF2 Group</text>
<text x="303.6" y="127.7" font-size="5.15" text-anchor="end" fill="#000" stroke="#000" stroke-width="0.08">Logrank p=0.04</text>
<text x="303.6" y="133.8" font-size="5.15" text-anchor="end" fill="#000" stroke="#000" stroke-width="0.08">HR(high)=0.35</text>
<text x="303.6" y="139.9" font-size="5.15" text-anchor="end" fill="#000" stroke="#000" stroke-width="0.08">p(HR)=0.049</text>
<text x="303.6" y="146" font-size="5.15" text-anchor="end" fill="#000" stroke="#000" stroke-width="0.08">n(high)=18</text>
<text x="303.6" y="152.1" font-size="5.15" text-anchor="end" fill="#000" stroke="#000" stroke-width="0.08">n(low)=18</text>
<rect x="338.5" y="109.1" width="124.7" height="118.2" fill="none" stroke="#9a9a9a" stroke-width="0.9"/>
<polyline points="339.2,113.5 340.9,113.5 340.9,114.12 342.6,114.12 342.6,114.75 344.3,114.75 344.3,115.38 346,115.38 346,116 347.75,116 347.75,116.62 349.5,116.62 349.5,117.25 351.25,117.25 351.25,117.88 353,117.88 353,118.5 354.5,118.5 354.5,119 356,119 356,119.5 357.5,119.5 357.5,120 359,120 359,120.5 360.5,120.5 360.5,121 362,121 362,121.5 363.5,121.5 363.5,122 365.2,122 365.2,122.6 366.9,122.6 366.9,123.2 368.6,123.2 368.6,123.8 370.3,123.8 370.3,124.4 372,124.4 372,125 373.6,125 373.6,125.7 375.2,125.7 375.2,126.4 376.8,126.4 376.8,127.1 378.4,127.1 378.4,127.8 380,127.8 380,128.5 381.6,128.5 381.6,129.1 383.2,129.1 383.2,129.7 384.8,129.7 384.8,130.3 386.4,130.3 386.4,130.9 388,130.9 388,131.5 389.6,131.5 389.6,132.78 391.2,132.78 391.2,134.06 392.8,134.06 392.8,135.34 394.4,135.34 394.4,136.62 396,136.62 396,137.9 397.55,137.9 397.55,138.64 399.1,138.64 399.1,139.38 400.65,139.38 400.65,140.12 402.2,140.12 402.2,140.87 403.75,140.87 403.75,141.61 405.3,141.61 405.3,142.35 406.85,142.35 406.85,143.09 408.4,143.09 408.4,143.83 409.95,143.83 409.95,144.58 411.5,144.58 411.5,145.32 413.05,145.32 413.05,146.06 414.6,146.06 414.6,146.8 459,146.8" fill="none" stroke="#f6c0c0" stroke-width="0.6" stroke-dasharray="2.6,1.6"/>
<polyline points="339.2,113.5 340.65,113.5 340.65,115.62 342.1,115.62 342.1,117.75 343.55,117.75 343.55,119.88 345,119.88 345,122 346.75,122 346.75,123.25 348.5,123.25 348.5,124.5 350.25,124.5 350.25,125.75 352,125.75 352,127 353.5,127 353.5,128.25 355,128.25 355,129.5 356.5,129.5 356.5,130.75 358,130.75 358,132 359.75,132 359.75,133.12 361.5,133.12 361.5,134.25 363.25,134.25 363.25,135.38 365,135.38 365,136.5 366.75,136.5 366.75,137.5 368.5,137.5 368.5,138.5 370.25,138.5 370.25,139.5 372,139.5 372,140.5 373.6,140.5 373.6,141.4 375.2,141.4 375.2,142.3 376.8,142.3 376.8,143.2 378.4,143.2 378.4,144.1 380,144.1 380,145 381.6,145 381.6,145.8 383.2,145.8 383.2,146.6 384.8,146.6 384.8,147.4 386.4,147.4 386.4,148.2 388,148.2 388,149 389.6,149 389.6,150.02 391.2,150.02 391.2,151.04 392.8,151.04 392.8,152.06 394.4,152.06 394.4,153.08 396,153.08 396,154.1 397.62,154.1 397.62,155.42 399.24,155.42 399.24,156.74 400.85,156.74 400.85,158.05 402.47,158.05 402.47,159.37 404.09,159.37 404.09,160.69 405.71,160.69 405.71,162.01 407.33,162.01 407.33,163.33 408.95,163.33 408.95,164.65 410.56,164.65 410.56,165.96 412.18,165.96 412.18,167.28 413.8,167.28 413.8,168.6 415.39,168.6 415.39,168.62 416.97,168.62 416.97,168.64 418.56,168.64 418.56,168.65 420.14,168.65 420.14,168.67 421.73,168.67 421.73,168.69 423.31,168.69 423.31,168.71 424.9,168.71 424.9,168.72 426.49,168.72 426.49,168.74 428.07,168.74 428.07,168.76 429.66,168.76 429.66,168.78 431.24,168.78 431.24,168.8 432.83,168.8 432.83,168.81 434.41,168.81 434.41,168.83 436,168.83 436,168.85 437.59,168.85 437.59,168.87 439.17,168.87 439.17,168.89 440.76,168.89 440.76,168.9 442.34,168.9 442.34,168.92 443.93,168.92 443.93,168.94 445.51,168.94 445.51,168.96 447.1,168.96 447.1,168.97 448.69,168.97 448.69,168.99 450.27,168.99 450.27,169.01 451.86,169.01 451.86,169.03 453.44,169.03 453.44,169.05 455.03,169.05 455.03,169.06 456.61,169.06 456.61,169.08 458.2,169.08 458.2,169.1" fill="none" stroke="#f6c0c0" stroke-width="0.6" stroke-dasharray="2.6,1.6"/>
<polyline points="339.2,113.5 340.65,113.5 340.65,114.88 342.1,114.88 342.1,116.25 343.55,116.25 343.55,117.62 345,117.62 345,119 346.75,119 346.75,120.25 348.5,120.25 348.5,121.5 350.25,121.5 350.25,122.75 352,122.75 352,124 353.6,124 353.6,125.4 355.2,125.4 355.2,126.8 356.8,126.8 356.8,128.2 358.4,128.2 358.4,129.6 360,129.6 360,131 361.6,131 361.6,132.4 363.2,132.4 363.2,133.8 364.8,133.8 364.8,135.2 366.4,135.2 366.4,136.6 368,136.6 368,138 369.6,138 369.6,139.2 371.2,139.2 371.2,140.4 372.8,140.4 372.8,141.6 374.4,141.6 374.4,142.8 376,142.8 376,144 377.5,144 377.5,145 379,145 379,146 380.5,146 380.5,147 382,147 382,148 383.5,148 383.5,149 385,149 385,150 386.57,150 386.57,151.39 388.14,151.39 388.14,152.77 389.71,152.77 389.71,154.16 391.29,154.16 391.29,155.54 392.86,155.54 392.86,156.93 394.43,156.93 394.43,158.31 396,158.31 396,159.7 397.62,159.7 397.62,160.43 399.24,160.43 399.24,161.16 400.86,161.16 400.86,161.89 402.48,161.89 402.48,162.62 404.1,162.62 404.1,163.35 405.72,163.35 405.72,164.08 407.34,164.08 407.34,164.81 408.96,164.81 408.96,165.54 410.58,165.54 410.58,166.27 412.2,166.27 412.2,167 432.4,167 434,167 434,163 445.3,163" fill="none" stroke="#c0c0f6" stroke-width="0.6" stroke-dasharray="2.6,1.6"/>
<polyline points="339.2,113.5 341.1,113.5 341.1,117.25 343,117.25 343,121 344.5,121 344.5,123 346,123 346,125 347.5,125 347.5,127 349,127 349,129 350.5,129 350.5,130.75 352,130.75 352,132.5 353.5,132.5 353.5,134.25 355,134.25 355,136 356.75,136 356.75,138 358.5,138 358.5,140 360.25,140 360.25,142 362,142 362,144 363.5,144 363.5,145.75 365,145.75 365,147.5 366.5,147.5 366.5,149.25 368,149.25 368,151 369.75,151 369.75,152.5 371.5,152.5 371.5,154 373.25,154 373.25,155.5 375,155.5 375,157 376.6,157 376.6,158.2 378.2,158.2 378.2,159.4 379.8,159.4 379.8,160.6 381.4,160.6 381.4,161.8 383,161.8 383,163 384.75,163 384.75,164.25 386.5,164.25 386.5,165.5 388.25,165.5 388.25,166.75 390,166.75 390,168 391.5,168 391.5,169.97 393,169.97 393,171.95 394.5,171.95 394.5,173.93 396,173.93 396,175.9 397.62,175.9 397.62,177.11 399.24,177.11 399.24,178.32 400.86,178.32 400.86,179.53 402.48,179.53 402.48,180.74 404.1,180.74 404.1,181.95 405.72,181.95 405.72,183.16 407.34,183.16 407.34,184.37 408.96,184.37 408.96,185.58 410.58,185.58 410.58,186.79 412.2,186.79 412.2,188 432.4,188 434,188 434,201.8 434,214.4 445.3,214.4" fill="none" stroke="#c0c0f6" stroke-width="0.6" stroke-dasharray="2.6,1.6"/>
<polyline points="339.2,113.7 340.82,113.7 340.82,115.1 342.45,115.1 342.45,116.5 344.07,116.5 344.07,117.9 345.7,117.9 345.7,119.3 347.32,119.3 347.32,120.1 348.95,120.1 348.95,120.9 350.57,120.9 350.57,121.7 352.2,121.7 352.2,122.5 353.8,122.5 353.8,123.6 355.4,123.6 355.4,124.7 357,124.7 357,125.8 358.62,125.8 358.62,126.6 360.25,126.6 360.25,127.4 361.88,127.4 361.88,128.2 363.5,128.2 363.5,129 365.12,129 365.12,129.8 366.75,129.8 366.75,130.6 368.38,130.6 368.38,131.4 370,131.4 370,132.2 371.6,132.2 371.6,133.22 373.2,133.22 373.2,134.25 374.8,134.25 374.8,135.28 376.4,135.28 376.4,136.3 378.02,136.3 378.02,137.5 379.65,137.5 379.65,138.7 381.27,138.7 381.27,139.9 382.9,139.9 382.9,141.1 384.5,141.1 384.5,141.53 386.1,141.53 386.1,141.95 387.7,141.95 387.7,142.38 389.3,142.38 389.3,142.8 390.93,142.8 390.93,143.6 392.57,143.6 392.57,144.4 394.2,144.4 394.2,145.2 395.8,145.2 395.8,146.27 397.4,146.27 397.4,147.33 399,147.33 399,148.4 400.75,148.4 400.75,149.2 402.5,149.2 402.5,150 404.1,150 404.1,151.03 405.7,151.03 405.7,152.05 407.3,152.05 407.3,153.07 408.9,153.07 408.9,154.1 410.32,154.1 410.32,155.3 411.75,155.3 411.75,156.5 413.18,156.5 413.18,157.7 414.6,157.7 414.6,158.9 459,158.9" fill="none" stroke="#e23c3c" stroke-width="1.1"/>
<polyline points="339.2,113.7 340.83,113.7 340.83,115.57 342.47,115.57 342.47,117.43 344.1,117.43 344.1,119.3 345.7,119.3 345.7,120.93 347.3,120.93 347.3,122.57 348.9,122.57 348.9,124.2 350.53,124.2 350.53,126.33 352.17,126.33 352.17,128.47 353.8,128.47 353.8,130.6 355.4,130.6 355.4,132.62 357,132.62 357,134.65 358.6,134.65 358.6,136.67 360.2,136.67 360.2,138.7 361.83,138.7 361.83,140.87 363.47,140.87 363.47,143.03 365.1,143.03 365.1,145.2 366.73,145.2 366.73,146.6 368.35,146.6 368.35,148 369.98,148 369.98,149.4 371.6,149.4 371.6,150.8 373.2,150.8 373.2,152.03 374.8,152.03 374.8,153.25 376.4,153.25 376.4,154.47 378,154.47 378,155.7 379.62,155.7 379.62,157.52 381.25,157.52 381.25,159.35 382.88,159.35 382.88,161.18 384.5,161.18 384.5,163 386.12,163 386.12,163.8 387.75,163.8 387.75,164.6 389.38,164.6 389.38,165.4 391,165.4 391,166.2 392.6,166.2 392.6,167.27 394.2,167.27 394.2,168.33 395.8,168.33 395.8,169.4 397.43,169.4 397.43,170.77 399.07,170.77 399.07,172.13 400.7,172.13 400.7,173.5 402.3,173.5 402.3,174.3 403.9,174.3 403.9,175.1 405.5,175.1 405.5,175.9 407.16,175.9 407.16,176.54 408.82,176.54 408.82,177.18 410.48,177.18 410.48,177.82 412.14,177.82 412.14,178.46 413.8,178.46 413.8,179.1 432.4,179.1 432.4,187.2 434,187.2 434,188.8 434,200.1 446.9,200.1" fill="none" stroke="#3c3ce6" stroke-width="1.1"/>
<line x1="418" y1="157.6" x2="418" y2="160.2" stroke="#e23c3c" stroke-width="0.8"/>
<line x1="420" y1="157.6" x2="420" y2="160.2" stroke="#e23c3c" stroke-width="0.8"/>
<line x1="423" y1="157.6" x2="423" y2="160.2" stroke="#e23c3c" stroke-width="0.8"/>
<line x1="425.5" y1="157.6" x2="425.5" y2="160.2" stroke="#e23c3c" stroke-width="0.8"/>
<line x1="427" y1="157.6" x2="427" y2="160.2" stroke="#e23c3c" stroke-width="0.8"/>
<line x1="428.5" y1="157.6" x2="428.5" y2="160.2" stroke="#e23c3c" stroke-width="0.8"/>
<line x1="431" y1="157.6" x2="431" y2="160.2" stroke="#e23c3c" stroke-width="0.8"/>
<line x1="434" y1="157.6" x2="434" y2="160.2" stroke="#e23c3c" stroke-width="0.8"/>
<line x1="437" y1="157.6" x2="437" y2="160.2" stroke="#e23c3c" stroke-width="0.8"/>
<line x1="440" y1="157.6" x2="440" y2="160.2" stroke="#e23c3c" stroke-width="0.8"/>
<line x1="443" y1="157.6" x2="443" y2="160.2" stroke="#e23c3c" stroke-width="0.8"/>
<line x1="446" y1="157.6" x2="446" y2="160.2" stroke="#e23c3c" stroke-width="0.8"/>
<line x1="449" y1="157.6" x2="449" y2="160.2" stroke="#e23c3c" stroke-width="0.8"/>
<line x1="452" y1="157.6" x2="452" y2="160.2" stroke="#e23c3c" stroke-width="0.8"/>
<line x1="458.5" y1="157.6" x2="458.5" y2="160.2" stroke="#e23c3c" stroke-width="0.8"/>
<line x1="372" y1="149.5" x2="372" y2="152.1" stroke="#3c3ce6" stroke-width="0.8"/>
<line x1="376" y1="151.95" x2="376" y2="154.55" stroke="#3c3ce6" stroke-width="0.8"/>
<line x1="380" y1="156.22" x2="380" y2="158.82" stroke="#3c3ce6" stroke-width="0.8"/>
<line x1="384" y1="159.88" x2="384" y2="162.48" stroke="#3c3ce6" stroke-width="0.8"/>
<line x1="388" y1="163.3" x2="388" y2="165.9" stroke="#3c3ce6" stroke-width="0.8"/>
<line x1="392" y1="164.9" x2="392" y2="167.5" stroke="#3c3ce6" stroke-width="0.8"/>
<line x1="395" y1="167.03" x2="395" y2="169.63" stroke="#3c3ce6" stroke-width="0.8"/>
<line x1="398" y1="169.47" x2="398" y2="172.07" stroke="#3c3ce6" stroke-width="0.8"/>
<line x1="402" y1="172.2" x2="402" y2="174.8" stroke="#3c3ce6" stroke-width="0.8"/>
<line x1="406" y1="174.6" x2="406" y2="177.2" stroke="#3c3ce6" stroke-width="0.8"/>
<line x1="414" y1="177.8" x2="414" y2="180.4" stroke="#3c3ce6" stroke-width="0.8"/>
<line x1="418" y1="177.8" x2="418" y2="180.4" stroke="#3c3ce6" stroke-width="0.8"/>
<line x1="421" y1="177.8" x2="421" y2="180.4" stroke="#3c3ce6" stroke-width="0.8"/>
<line x1="424" y1="177.8" x2="424" y2="180.4" stroke="#3c3ce6" stroke-width="0.8"/>
<line x1="427.5" y1="177.8" x2="427.5" y2="180.4" stroke="#3c3ce6" stroke-width="0.8"/>
<line x1="430" y1="177.8" x2="430" y2="180.4" stroke="#3c3ce6" stroke-width="0.8"/>
<line x1="445" y1="198.8" x2="445" y2="201.4" stroke="#3c3ce6" stroke-width="0.8"/>
<line x1="336.1" y1="222.9" x2="338.5" y2="222.9" stroke="#666" stroke-width="0.8"/>
<text x="331.6" y="222.9" font-size="5.3" text-anchor="middle" transform="rotate(-90 331.6 222.9)" stroke="#111" stroke-width="0.1">0.0</text>
<line x1="336.1" y1="201.02" x2="338.5" y2="201.02" stroke="#666" stroke-width="0.8"/>
<text x="331.6" y="201.02" font-size="5.3" text-anchor="middle" transform="rotate(-90 331.6 201.02)" stroke="#111" stroke-width="0.1">0.2</text>
<line x1="336.1" y1="179.14" x2="338.5" y2="179.14" stroke="#666" stroke-width="0.8"/>
<text x="331.6" y="179.14" font-size="5.3" text-anchor="middle" transform="rotate(-90 331.6 179.14)" stroke="#111" stroke-width="0.1">0.4</text>
<line x1="336.1" y1="157.26" x2="338.5" y2="157.26" stroke="#666" stroke-width="0.8"/>
<text x="331.6" y="157.26" font-size="5.3" text-anchor="middle" transform="rotate(-90 331.6 157.26)" stroke="#111" stroke-width="0.1">0.6</text>
<line x1="336.1" y1="135.38" x2="338.5" y2="135.38" stroke="#666" stroke-width="0.8"/>
<text x="331.6" y="135.38" font-size="5.3" text-anchor="middle" transform="rotate(-90 331.6 135.38)" stroke="#111" stroke-width="0.1">0.8</text>
<line x1="336.1" y1="113.5" x2="338.5" y2="113.5" stroke="#666" stroke-width="0.8"/>
<text x="331.6" y="113.5" font-size="5.3" text-anchor="middle" transform="rotate(-90 331.6 113.5)" stroke="#111" stroke-width="0.1">1.0</text>
<line x1="338.5" y1="227.3" x2="338.5" y2="229.9" stroke="#666" stroke-width="0.8"/>
<text x="338.5" y="238.4" font-size="5.2" text-anchor="middle" stroke="#111" stroke-width="0.1">0</text>
<line x1="377.85" y1="227.3" x2="377.85" y2="229.9" stroke="#666" stroke-width="0.8"/>
<text x="377.85" y="238.4" font-size="5.2" text-anchor="middle" stroke="#111" stroke-width="0.1">50</text>
<line x1="417.2" y1="227.3" x2="417.2" y2="229.9" stroke="#666" stroke-width="0.8"/>
<text x="417.2" y="238.4" font-size="5.2" text-anchor="middle" stroke="#111" stroke-width="0.1">100</text>
<line x1="456.55" y1="227.3" x2="456.55" y2="229.9" stroke="#666" stroke-width="0.8"/>
<text x="456.55" y="238.4" font-size="5.2" text-anchor="middle" stroke="#111" stroke-width="0.1">150</text>
<text x="400.85" y="248" font-size="7" text-anchor="middle" fill="#000">Months</text>
<text x="321.8" y="168.2" font-size="6.7" text-anchor="middle" fill="#000" transform="rotate(-90 321.8 168.2)">Percent survival</text>
<text x="400.85" y="106.8" font-size="7.7" text-anchor="middle">Overall Survival</text>
<line x1="404.7" y1="115" x2="413.9" y2="115" stroke="#5a5af0" stroke-width="0.9"/>
<line x1="404.7" y1="120" x2="413.9" y2="120" stroke="#f06060" stroke-width="0.9"/>
<text x="416.4" y="116.7" font-size="5.15" fill="#000" stroke="#000" stroke-width="0.08">Low TERF2 Group</text>
<text x="416.4" y="121.7" font-size="5.15" fill="#000" stroke="#000" stroke-width="0.08">High TERF2 Group</text>
<text x="459.5" y="127.7" font-size="5.15" text-anchor="end" fill="#000" stroke="#000" stroke-width="0.08">Logrank p=9.6e−06</text>
<text x="459.5" y="133.8" font-size="5.15" text-anchor="end" fill="#000" stroke="#000" stroke-width="0.08">HR(high)=0.5</text>
<text x="459.5" y="139.9" font-size="5.15" text-anchor="end" fill="#000" stroke="#000" stroke-width="0.08">p(HR)=1.4e−05</text>
<text x="459.5" y="146" font-size="5.15" text-anchor="end" fill="#000" stroke="#000" stroke-width="0.08">n(high)=258</text>
<text x="459.5" y="152.1" font-size="5.15" text-anchor="end" fill="#000" stroke="#000" stroke-width="0.08">n(low)=257</text>
<rect x="499.1" y="109.1" width="124.7" height="118.2" fill="none" stroke="#9a9a9a" stroke-width="0.9"/>
<polyline points="499.4,113.7 500.86,113.7 500.86,115.14 502.32,115.14 502.32,116.58 503.78,116.58 503.78,118.02 505.24,118.02 505.24,119.46 506.7,119.46 506.7,120.9 508.32,120.9 508.32,123.72 509.95,123.72 509.95,126.55 511.58,126.55 511.58,129.38 513.2,129.38 513.2,132.2 514.8,132.2 514.8,133.82 516.4,133.82 516.4,135.44 518,135.44 518,137.06 519.6,137.06 519.6,138.68 521.2,138.68 521.2,140.3 522.82,140.3 522.82,142.08 524.44,142.08 524.44,143.86 526.06,143.86 526.06,145.64 527.68,145.64 527.68,147.42 529.3,147.42 529.3,149.2 530.92,149.2 530.92,150.02 532.54,150.02 532.54,150.84 534.16,150.84 534.16,151.66 535.78,151.66 535.78,152.48 537.4,152.48 537.4,153.3 539.02,153.3 539.02,154.58 540.64,154.58 540.64,155.86 542.26,155.86 542.26,157.14 543.88,157.14 543.88,158.42 545.5,158.42 545.5,159.7 547,159.7 547,160.29 548.5,160.29 548.5,160.87 550,160.87 550,161.46 551.5,161.46 551.5,162.04 553,162.04 553,162.63 554.5,162.63 554.5,163.21 556,163.21 556,163.8 557.61,163.8 557.61,164.42 559.22,164.42 559.22,165.04 560.83,165.04 560.83,165.67 562.44,165.67 562.44,166.29 564.06,166.29 564.06,166.91 565.67,166.91 565.67,167.53 567.28,167.53 567.28,168.16 568.89,168.16 568.89,168.78 570.5,168.78 570.5,169.4 593.2,169.4 594.82,169.4 594.82,169 596.43,169 596.43,168.6 598.05,168.6 598.05,168.2 599.67,168.2 599.67,167.8 601.28,167.8 601.28,167.4 602.9,167.4 602.9,167 606.9,167" fill="none" stroke="#c0c0f6" stroke-width="0.6" stroke-dasharray="2.6,1.6"/>
<polyline points="499.4,113.7 500.86,113.7 500.86,117.08 502.32,117.08 502.32,120.46 503.78,120.46 503.78,123.84 505.24,123.84 505.24,127.22 506.7,127.22 506.7,130.6 508.32,130.6 508.32,133.85 509.95,133.85 509.95,137.1 511.58,137.1 511.58,140.35 513.2,140.35 513.2,143.6 514.8,143.6 514.8,145.54 516.4,145.54 516.4,147.48 518,147.48 518,149.42 519.6,149.42 519.6,151.36 521.2,151.36 521.2,153.3 522.82,153.3 522.82,155.24 524.44,155.24 524.44,157.18 526.06,157.18 526.06,159.12 527.68,159.12 527.68,161.06 529.3,161.06 529.3,163 530.92,163 530.92,164.33 532.53,164.33 532.53,165.67 534.15,165.67 534.15,167 535.77,167 535.77,168.33 537.38,168.33 537.38,169.67 539,169.67 539,171 540.62,171 540.62,172.08 542.23,172.08 542.23,173.17 543.85,173.17 543.85,174.25 545.47,174.25 545.47,175.33 547.08,175.33 547.08,176.42 548.7,176.42 548.7,177.5 550.16,177.5 550.16,178.48 551.62,178.48 551.62,179.46 553.08,179.46 553.08,180.44 554.54,180.44 554.54,181.42 556,181.42 556,182.4 557.61,182.4 557.61,183.66 559.22,183.66 559.22,184.91 560.83,184.91 560.83,186.17 562.44,186.17 562.44,187.42 564.06,187.42 564.06,188.68 565.67,188.68 565.67,189.93 567.28,189.93 567.28,191.19 568.89,191.19 568.89,192.44 570.5,192.44 570.5,193.7 572.12,193.7 572.12,194.51 573.74,194.51 573.74,195.32 575.37,195.32 575.37,196.13 576.99,196.13 576.99,196.94 578.61,196.94 578.61,197.76 580.23,197.76 580.23,198.57 581.86,198.57 581.86,199.38 583.48,199.38 583.48,200.19 585.1,200.19 585.1,201 602.9,201 602.9,214.7 606.9,214.7" fill="none" stroke="#c0c0f6" stroke-width="0.6" stroke-dasharray="2.6,1.6"/>
<polyline points="499.4,113.7 500.86,113.7 500.86,115.8 502.32,115.8 502.32,117.9 503.78,117.9 503.78,120 505.24,120 505.24,122.1 506.7,122.1 506.7,124.2 508.32,124.2 508.32,128.22 509.95,128.22 509.95,132.25 511.58,132.25 511.58,136.28 513.2,136.28 513.2,140.3 514.8,140.3 514.8,142.56 516.4,142.56 516.4,144.82 518,144.82 518,147.08 519.6,147.08 519.6,149.34 521.2,149.34 521.2,151.6 522.82,151.6 522.82,153.54 524.44,153.54 524.44,155.48 526.06,155.48 526.06,157.42 527.68,157.42 527.68,159.36 529.3,159.36 529.3,161.3 530.92,161.3 530.92,162.92 532.54,162.92 532.54,164.54 534.16,164.54 534.16,166.16 535.78,166.16 535.78,167.78 537.4,167.78 537.4,169.4 539.02,169.4 539.02,170.7 540.64,170.7 540.64,172 542.26,172 542.26,173.3 543.88,173.3 543.88,174.6 545.5,174.6 545.5,175.9 547,175.9 547,176.71 548.5,176.71 548.5,177.53 550,177.53 550,178.34 551.5,178.34 551.5,179.16 553,179.16 553,179.97 554.5,179.97 554.5,180.79 556,180.79 556,181.6 557.61,181.6 557.61,182.22 559.22,182.22 559.22,182.84 560.83,182.84 560.83,183.47 562.44,183.47 562.44,184.09 564.06,184.09 564.06,184.71 565.67,184.71 565.67,185.33 567.28,185.33 567.28,185.96 568.89,185.96 568.89,186.58 570.5,186.58 570.5,187.2 572.12,187.2 572.12,188.17 573.74,188.17 573.74,189.14 575.36,189.14 575.36,190.11 576.98,190.11 576.98,191.08 578.6,191.08 578.6,192.05 580.22,192.05 580.22,193.02 581.84,193.02 581.84,193.99 583.46,193.99 583.46,194.96 585.08,194.96 585.08,195.93 586.7,195.93 586.7,196.9 602.9,196.9 604.5,196.9 604.5,197.7 606.1,197.7 606.1,198.5" fill="none" stroke="#f6c0c0" stroke-width="0.6" stroke-dasharray="2.6,1.6"/>
<polyline points="499.4,113.7 500.86,113.7 500.86,117.08 502.32,117.08 502.32,120.46 503.78,120.46 503.78,123.84 505.24,123.84 505.24,127.22 506.7,127.22 506.7,130.6 508.32,130.6 508.32,134.65 509.95,134.65 509.95,138.7 511.58,138.7 511.58,142.75 513.2,142.75 513.2,146.8 514.8,146.8 514.8,150.04 516.4,150.04 516.4,153.28 518,153.28 518,156.52 519.6,156.52 519.6,159.76 521.2,159.76 521.2,163 522.82,163 522.82,165.58 524.44,165.58 524.44,168.16 526.06,168.16 526.06,170.74 527.68,170.74 527.68,173.32 529.3,173.32 529.3,175.9 530.92,175.9 530.92,177.52 532.53,177.52 532.53,179.13 534.15,179.13 534.15,180.75 535.77,180.75 535.77,182.37 537.38,182.37 537.38,183.98 539,183.98 539,185.6 540.62,185.6 540.62,186.95 542.23,186.95 542.23,188.3 543.85,188.3 543.85,189.65 545.47,189.65 545.47,191 547.08,191 547.08,192.35 548.7,192.35 548.7,193.7 550.32,193.7 550.32,195.05 551.93,195.05 551.93,196.4 553.55,196.4 553.55,197.75 555.17,197.75 555.17,199.1 556.78,199.1 556.78,200.45 558.4,200.45 558.4,201.8 559.91,201.8 559.91,202.8 561.42,202.8 561.42,203.8 562.94,203.8 562.94,204.8 564.45,204.8 564.45,205.8 565.96,205.8 565.96,206.8 567.48,206.8 567.48,207.8 568.99,207.8 568.99,208.8 570.5,208.8 570.5,209.8 572.12,209.8 572.12,210.61 573.74,210.61 573.74,211.42 575.36,211.42 575.36,212.23 576.98,212.23 576.98,213.04 578.6,213.04 578.6,213.85 580.22,213.85 580.22,214.66 581.84,214.66 581.84,215.47 583.46,215.47 583.46,216.28 585.08,216.28 585.08,217.09 586.7,217.09 586.7,217.9 606.1,217.9" fill="none" stroke="#f6c0c0" stroke-width="0.6" stroke-dasharray="2.6,1.6"/>
<polyline points="499.4,113.7 500.77,113.7 500.77,116.1 502.13,116.1 502.13,118.5 503.5,118.5 503.5,120.9 505.5,120.9 505.5,124.15 507.5,124.15 507.5,127.4 509.9,127.4 509.9,137.1 511.53,137.1 511.53,139.8 513.17,139.8 513.17,142.5 514.8,142.5 514.8,145.2 516.4,145.2 516.4,146.27 518,146.27 518,147.33 519.6,147.33 519.6,148.4 520.97,148.4 520.97,150.57 522.33,150.57 522.33,152.73 523.7,152.73 523.7,154.9 525.57,154.9 525.57,156.5 527.43,156.5 527.43,158.1 529.3,158.1 529.3,159.7 530.92,159.7 530.92,160.32 532.55,160.32 532.55,160.95 534.17,160.95 534.17,161.57 535.8,161.57 535.8,162.2 537.8,162.2 537.8,163.8 539.8,163.8 539.8,165.4 541.17,165.4 541.17,167 542.53,167 542.53,168.6 543.9,168.6 543.9,170.2 545.5,170.2 545.5,171.02 547.1,171.02 547.1,171.85 548.7,171.85 548.7,172.68 550.3,172.68 550.3,173.5 551.72,173.5 551.72,173.9 553.15,173.9 553.15,174.3 554.58,174.3 554.58,174.7 556,174.7 556,175.1 557.62,175.1 557.62,176.3 559.25,176.3 559.25,177.5 560.88,177.5 560.88,178.7 562.5,178.7 562.5,179.9 563.94,179.9 563.94,180.56 565.38,180.56 565.38,181.22 566.82,181.22 566.82,181.88 568.26,181.88 568.26,182.54 569.7,182.54 569.7,183.2 585.1,183.2 585.1,189.3 602.9,189.3 602.9,200.5 618.2,200.5 618.2,223.1" fill="none" stroke="#3c3ce6" stroke-width="1.1"/>
<polyline points="499.4,113.7 500.77,113.7 500.77,116.63 502.13,116.63 502.13,119.57 503.5,119.57 503.5,122.5 505.5,122.5 505.5,127.35 507.5,127.35 507.5,132.2 509.13,132.2 509.13,135.43 510.77,135.43 510.77,138.67 512.4,138.67 512.4,141.9 514.4,141.9 514.4,145.15 516.4,145.15 516.4,148.4 518,148.4 518,151.1 519.6,151.1 519.6,153.8 521.2,153.8 521.2,156.5 522.83,156.5 522.83,159.2 524.47,159.2 524.47,161.9 526.1,161.9 526.1,164.6 527.73,164.6 527.73,166.47 529.37,166.47 529.37,168.33 531,168.33 531,170.2 532.6,170.2 532.6,171.57 534.2,171.57 534.2,172.93 535.8,172.93 535.8,174.3 537.4,174.3 537.4,175.9 539,175.9 539,177.5 540.6,177.5 540.6,179.1 542.23,179.1 542.23,180.47 543.87,180.47 543.87,181.83 545.5,181.83 545.5,183.2 547.1,183.2 547.1,184.53 548.7,184.53 548.7,185.87 550.3,185.87 550.3,187.2 551.72,187.2 551.72,188.62 553.15,188.62 553.15,190.05 554.58,190.05 554.58,191.47 556,191.47 556,192.9 557.62,192.9 557.62,193.7 559.25,193.7 559.25,194.5 560.88,194.5 560.88,195.3 562.5,195.3 562.5,196.1 564.5,196.1 564.5,198.1 566.5,198.1 566.5,200.1 567.92,200.1 567.92,200.53 569.35,200.53 569.35,200.95 570.78,200.95 570.78,201.38 572.2,201.38 572.2,201.8 573.8,201.8 573.8,203.4 575.4,203.4 575.4,205 577,205 577,205.8 578.6,205.8 578.6,206.6 580.2,206.6 580.2,207.4 581.83,207.4 581.83,208.32 583.45,208.32 583.45,209.25 585.08,209.25 585.08,210.18 586.7,210.18 586.7,211.1 606.1,211.1" fill="none" stroke="#e23c3c" stroke-width="1.1"/>
<line x1="566" y1="196.8" x2="566" y2="199.4" stroke="#e23c3c" stroke-width="0.8"/>
<line x1="571" y1="200.07" x2="571" y2="202.68" stroke="#e23c3c" stroke-width="0.8"/>
<line x1="574" y1="202.1" x2="574" y2="204.7" stroke="#e23c3c" stroke-width="0.8"/>
<line x1="578" y1="204.5" x2="578" y2="207.1" stroke="#e23c3c" stroke-width="0.8"/>
<line x1="584" y1="207.95" x2="584" y2="210.55" stroke="#e23c3c" stroke-width="0.8"/>
<line x1="590" y1="209.8" x2="590" y2="212.4" stroke="#e23c3c" stroke-width="0.8"/>
<line x1="595" y1="209.8" x2="595" y2="212.4" stroke="#e23c3c" stroke-width="0.8"/>
<line x1="602" y1="209.8" x2="602" y2="212.4" stroke="#e23c3c" stroke-width="0.8"/>
<line x1="605" y1="209.8" x2="605" y2="212.4" stroke="#e23c3c" stroke-width="0.8"/>
<line x1="560" y1="176.2" x2="560" y2="178.8" stroke="#3c3ce6" stroke-width="0.8"/>
<line x1="563" y1="178.6" x2="563" y2="181.2" stroke="#3c3ce6" stroke-width="0.8"/>
<line x1="571" y1="181.9" x2="571" y2="184.5" stroke="#3c3ce6" stroke-width="0.8"/>
<line x1="575" y1="181.9" x2="575" y2="184.5" stroke="#3c3ce6" stroke-width="0.8"/>
<line x1="579" y1="181.9" x2="579" y2="184.5" stroke="#3c3ce6" stroke-width="0.8"/>
<line x1="581" y1="181.9" x2="581" y2="184.5" stroke="#3c3ce6" stroke-width="0.8"/>
<line x1="590" y1="188" x2="590" y2="190.6" stroke="#3c3ce6" stroke-width="0.8"/>
<line x1="604" y1="199.2" x2="604" y2="201.8" stroke="#3c3ce6" stroke-width="0.8"/>
<line x1="496.7" y1="222.9" x2="499.1" y2="222.9" stroke="#666" stroke-width="0.8"/>
<text x="492.2" y="222.9" font-size="5.3" text-anchor="middle" transform="rotate(-90 492.2 222.9)" stroke="#111" stroke-width="0.1">0.0</text>
<line x1="496.7" y1="201.02" x2="499.1" y2="201.02" stroke="#666" stroke-width="0.8"/>
<text x="492.2" y="201.02" font-size="5.3" text-anchor="middle" transform="rotate(-90 492.2 201.02)" stroke="#111" stroke-width="0.1">0.2</text>
<line x1="496.7" y1="179.14" x2="499.1" y2="179.14" stroke="#666" stroke-width="0.8"/>
<text x="492.2" y="179.14" font-size="5.3" text-anchor="middle" transform="rotate(-90 492.2 179.14)" stroke="#111" stroke-width="0.1">0.4</text>
<line x1="496.7" y1="157.26" x2="499.1" y2="157.26" stroke="#666" stroke-width="0.8"/>
<text x="492.2" y="157.26" font-size="5.3" text-anchor="middle" transform="rotate(-90 492.2 157.26)" stroke="#111" stroke-width="0.1">0.6</text>
<line x1="496.7" y1="135.38" x2="499.1" y2="135.38" stroke="#666" stroke-width="0.8"/>
<text x="492.2" y="135.38" font-size="5.3" text-anchor="middle" transform="rotate(-90 492.2 135.38)" stroke="#111" stroke-width="0.1">0.8</text>
<line x1="496.7" y1="113.5" x2="499.1" y2="113.5" stroke="#666" stroke-width="0.8"/>
<text x="492.2" y="113.5" font-size="5.3" text-anchor="middle" transform="rotate(-90 492.2 113.5)" stroke="#111" stroke-width="0.1">1.0</text>
<line x1="499.1" y1="227.3" x2="499.1" y2="229.9" stroke="#666" stroke-width="0.8"/>
<text x="499.1" y="238.4" font-size="5.2" text-anchor="middle" stroke="#111" stroke-width="0.1">0</text>
<line x1="532.85" y1="227.3" x2="532.85" y2="229.9" stroke="#666" stroke-width="0.8"/>
<text x="532.85" y="238.4" font-size="5.2" text-anchor="middle" stroke="#111" stroke-width="0.1">50</text>
<line x1="566.6" y1="227.3" x2="566.6" y2="229.9" stroke="#666" stroke-width="0.8"/>
<text x="566.6" y="238.4" font-size="5.2" text-anchor="middle" stroke="#111" stroke-width="0.1">100</text>
<line x1="600.35" y1="227.3" x2="600.35" y2="229.9" stroke="#666" stroke-width="0.8"/>
<text x="600.35" y="238.4" font-size="5.2" text-anchor="middle" stroke="#111" stroke-width="0.1">150</text>
<text x="561.45" y="248" font-size="7" text-anchor="middle" fill="#000">Months</text>
<text x="482.4" y="168.2" font-size="6.7" text-anchor="middle" fill="#000" transform="rotate(-90 482.4 168.2)">Percent survival</text>
<text x="561.45" y="106.8" font-size="7.7" text-anchor="middle">Overall Survival</text>
<line x1="565.3" y1="115" x2="574.5" y2="115" stroke="#5a5af0" stroke-width="0.9"/>
<line x1="565.3" y1="120" x2="574.5" y2="120" stroke="#f06060" stroke-width="0.9"/>
<text x="577" y="116.7" font-size="5.15" fill="#000" stroke="#000" stroke-width="0.08">Low TERF2 Group</text>
<text x="577" y="121.7" font-size="5.15" fill="#000" stroke="#000" stroke-width="0.08">High TERF2 Group</text>
<text x="620.1" y="127.7" font-size="5.15" text-anchor="end" fill="#000" stroke="#000" stroke-width="0.08">Logrank p=0.021</text>
<text x="620.1" y="133.8" font-size="5.15" text-anchor="end" fill="#000" stroke="#000" stroke-width="0.08">HR(high)=1.4</text>
<text x="620.1" y="139.9" font-size="5.15" text-anchor="end" fill="#000" stroke="#000" stroke-width="0.08">p(HR)=0.022</text>
<text x="620.1" y="146" font-size="5.15" text-anchor="end" fill="#000" stroke="#000" stroke-width="0.08">n(high)=241</text>
<text x="620.1" y="152.1" font-size="5.15" text-anchor="end" fill="#000" stroke="#000" stroke-width="0.08">n(low)=241</text>
<rect x="26.4" y="373.8" width="124.7" height="118.2" fill="none" stroke="#9a9a9a" stroke-width="0.9"/>
<polyline points="26.9,378.5 34.7,378.5 34.7,379.3 42.8,379.3 42.8,384.9 46.8,384.9 46.8,389.8 50.9,389.8 50.9,393 80,393 80,396.2 146.2,396.2" fill="none" stroke="#c0c0f6" stroke-width="0.6" stroke-dasharray="2.6,1.6"/>
<polyline points="26.9,378.5 29,378.5 29,391.4 33.1,391.4 33.1,397.9 38.7,397.9 38.7,406 42.8,406 42.8,412.4 46.8,412.4 46.8,418.9 50.9,418.9 50.9,427 80,427 80,436.3 146.4,436.3" fill="none" stroke="#c0c0f6" stroke-width="0.6" stroke-dasharray="2.6,1.6"/>
<polyline points="26.9,378.5 29.8,378.5 29.8,391.4 33.1,391.4 33.1,402.7 37.9,402.7 37.9,410.8 41.2,410.8 41.2,418.1 55.7,418.1 55.7,421.3 63,421.3 63,424.3 120.6,424.3" fill="none" stroke="#f6c0c0" stroke-width="0.6" stroke-dasharray="2.6,1.6"/>
<polyline points="26.9,378.5 31.5,378.5 31.5,418.9 34.7,418.9 34.7,435 37.9,435 37.9,448 41.2,448 41.2,452.8 55.7,452.8 55.7,460.9 63,460.9 63,469.8 120.6,469.8" fill="none" stroke="#f6c0c0" stroke-width="0.6" stroke-dasharray="2.6,1.6"/>
<polyline points="26.9,378.5 28.2,378.5 28.2,381.7 29.8,381.7 29.8,386.5 32.3,386.5 32.3,392.2 38.7,392.2 38.7,395.4 42.8,395.4 42.8,397.9 44.4,397.9 44.4,401.1 46.8,401.1 46.8,404.3 48.4,404.3 48.4,407.6 50.9,407.6 50.9,412.4 80,412.4 80,419.4 146.1,419.4" fill="none" stroke="#3c3ce6" stroke-width="1.1"/>
<polyline points="26.9,378.5 28.2,378.5 28.2,388.2 29.8,388.2 29.8,397.9 31.5,397.9 31.5,409.2 33.1,409.2 33.1,418.9 35.5,418.9 35.5,427 37.9,427 37.9,434.2 41.2,434.2 41.2,439.1 55.7,439.1 55.7,446.4 63,446.4 63,454.4 122.2,454.4" fill="none" stroke="#e23c3c" stroke-width="1.1"/>
<line x1="41.2" y1="394.1" x2="41.2" y2="396.7" stroke="#3c3ce6" stroke-width="0.8"/>
<line x1="46" y1="399.8" x2="46" y2="402.4" stroke="#3c3ce6" stroke-width="0.8"/>
<line x1="49.2" y1="406.3" x2="49.2" y2="408.9" stroke="#3c3ce6" stroke-width="0.8"/>
<line x1="59" y1="411.1" x2="59" y2="413.7" stroke="#3c3ce6" stroke-width="0.8"/>
<line x1="65.4" y1="411.1" x2="65.4" y2="413.7" stroke="#3c3ce6" stroke-width="0.8"/>
<line x1="71.9" y1="411.1" x2="71.9" y2="413.7" stroke="#3c3ce6" stroke-width="0.8"/>
<line x1="74.3" y1="411.1" x2="74.3" y2="413.7" stroke="#3c3ce6" stroke-width="0.8"/>
<line x1="80" y1="411.1" x2="80" y2="413.7" stroke="#3c3ce6" stroke-width="0.8"/>
<line x1="87.4" y1="418.1" x2="87.4" y2="420.7" stroke="#3c3ce6" stroke-width="0.8"/>
<line x1="96.6" y1="418.1" x2="96.6" y2="420.7" stroke="#3c3ce6" stroke-width="0.8"/>
<line x1="104.7" y1="418.1" x2="104.7" y2="420.7" stroke="#3c3ce6" stroke-width="0.8"/>
<line x1="115.4" y1="418.1" x2="115.4" y2="420.7" stroke="#3c3ce6" stroke-width="0.8"/>
<line x1="119.3" y1="418.1" x2="119.3" y2="420.7" stroke="#3c3ce6" stroke-width="0.8"/>
<line x1="146.1" y1="418.1" x2="146.1" y2="420.7" stroke="#3c3ce6" stroke-width="0.8"/>
<line x1="39.5" y1="432.9" x2="39.5" y2="435.5" stroke="#e23c3c" stroke-width="0.8"/>
<line x1="50.1" y1="437.8" x2="50.1" y2="440.4" stroke="#e23c3c" stroke-width="0.8"/>
<line x1="57.3" y1="445.1" x2="57.3" y2="447.7" stroke="#e23c3c" stroke-width="0.8"/>
<line x1="79.2" y1="453.1" x2="79.2" y2="455.7" stroke="#e23c3c" stroke-width="0.8"/>
<line x1="80.8" y1="453.1" x2="80.8" y2="455.7" stroke="#e23c3c" stroke-width="0.8"/>
<line x1="83.5" y1="453.1" x2="83.5" y2="455.7" stroke="#e23c3c" stroke-width="0.8"/>
<line x1="122.2" y1="453.1" x2="122.2" y2="455.7" stroke="#e23c3c" stroke-width="0.8"/>
<line x1="24" y1="487.6" x2="26.4" y2="487.6" stroke="#666" stroke-width="0.8"/>
<text x="19.5" y="487.6" font-size="5.3" text-anchor="middle" transform="rotate(-90 19.5 487.6)" stroke="#111" stroke-width="0.1">0.0</text>
<line x1="24" y1="465.72" x2="26.4" y2="465.72" stroke="#666" stroke-width="0.8"/>
<text x="19.5" y="465.72" font-size="5.3" text-anchor="middle" transform="rotate(-90 19.5 465.72)" stroke="#111" stroke-width="0.1">0.2</text>
<line x1="24" y1="443.84" x2="26.4" y2="443.84" stroke="#666" stroke-width="0.8"/>
<text x="19.5" y="443.84" font-size="5.3" text-anchor="middle" transform="rotate(-90 19.5 443.84)" stroke="#111" stroke-width="0.1">0.4</text>
<line x1="24" y1="421.96" x2="26.4" y2="421.96" stroke="#666" stroke-width="0.8"/>
<text x="19.5" y="421.96" font-size="5.3" text-anchor="middle" transform="rotate(-90 19.5 421.96)" stroke="#111" stroke-width="0.1">0.6</text>
<line x1="24" y1="400.08" x2="26.4" y2="400.08" stroke="#666" stroke-width="0.8"/>
<text x="19.5" y="400.08" font-size="5.3" text-anchor="middle" transform="rotate(-90 19.5 400.08)" stroke="#111" stroke-width="0.1">0.8</text>
<line x1="24" y1="378.2" x2="26.4" y2="378.2" stroke="#666" stroke-width="0.8"/>
<text x="19.5" y="378.2" font-size="5.3" text-anchor="middle" transform="rotate(-90 19.5 378.2)" stroke="#111" stroke-width="0.1">1.0</text>
<line x1="26.4" y1="492" x2="26.4" y2="494.6" stroke="#666" stroke-width="0.8"/>
<text x="26.4" y="503.1" font-size="5.2" text-anchor="middle" stroke="#111" stroke-width="0.1">0</text>
<line x1="64.8" y1="492" x2="64.8" y2="494.6" stroke="#666" stroke-width="0.8"/>
<text x="64.8" y="503.1" font-size="5.2" text-anchor="middle" stroke="#111" stroke-width="0.1">50</text>
<line x1="103.2" y1="492" x2="103.2" y2="494.6" stroke="#666" stroke-width="0.8"/>
<text x="103.2" y="503.1" font-size="5.2" text-anchor="middle" stroke="#111" stroke-width="0.1">100</text>
<line x1="141.6" y1="492" x2="141.6" y2="494.6" stroke="#666" stroke-width="0.8"/>
<text x="141.6" y="503.1" font-size="5.2" text-anchor="middle" stroke="#111" stroke-width="0.1">150</text>
<text x="88.75" y="512.7" font-size="7" text-anchor="middle" fill="#000">Months</text>
<text x="9.7" y="432.9" font-size="6.7" text-anchor="middle" fill="#000" transform="rotate(-90 9.7 432.9)">Percent survival</text>
<text x="88.75" y="371.5" font-size="7.7" text-anchor="middle">Disease Free Survival</text>
<line x1="92.6" y1="379.7" x2="101.8" y2="379.7" stroke="#5a5af0" stroke-width="0.9"/>
<line x1="92.6" y1="384.7" x2="101.8" y2="384.7" stroke="#f06060" stroke-width="0.9"/>
<text x="104.3" y="381.4" font-size="5.15" fill="#000" stroke="#000" stroke-width="0.08">Low TERF2 Group</text>
<text x="104.3" y="386.4" font-size="5.15" fill="#000" stroke="#000" stroke-width="0.08">High TERF2 Group</text>
<text x="147.4" y="392.4" font-size="5.15" text-anchor="end" fill="#000" stroke="#000" stroke-width="0.08">Logrank p=0.0024</text>
<text x="147.4" y="398.5" font-size="5.15" text-anchor="end" fill="#000" stroke="#000" stroke-width="0.08">HR(high)=2.9</text>
<text x="147.4" y="404.6" font-size="5.15" text-anchor="end" fill="#000" stroke="#000" stroke-width="0.08">p(HR)=0.0036</text>
<text x="147.4" y="410.7" font-size="5.15" text-anchor="end" fill="#000" stroke="#000" stroke-width="0.08">n(high)=38</text>
<text x="147.4" y="416.8" font-size="5.15" text-anchor="end" fill="#000" stroke="#000" stroke-width="0.08">n(low)=38</text>
<rect x="182.5" y="373.8" width="124.7" height="118.2" fill="none" stroke="#9a9a9a" stroke-width="0.9"/>
<polyline points="183.2,378.5 184.85,378.5 184.85,379.75 186.5,379.75 186.5,381 188.1,381 188.1,382.5 189.7,382.5 189.7,384 191.32,384 191.32,384.38 192.95,384.38 192.95,384.75 194.57,384.75 194.57,385.12 196.2,385.12 196.2,385.5 197.8,385.5 197.8,386.4 199.4,386.4 199.4,387.3 201,387.3 201,388.2 202.6,388.2 202.6,389.1 204.2,389.1 204.2,390 205.82,390 205.82,390.3 207.44,390.3 207.44,390.6 209.06,390.6 209.06,390.9 210.68,390.9 210.68,391.2 212.3,391.2 212.3,391.5 213.92,391.5 213.92,391.8 215.54,391.8 215.54,392.1 217.16,392.1 217.16,392.4 218.78,392.4 218.78,392.7 220.4,392.7 220.4,393 222.03,393 222.03,393.62 223.65,393.62 223.65,394.25 225.28,394.25 225.28,394.88 226.9,394.88 226.9,395.5 228.52,395.5 228.52,395.7 230.14,395.7 230.14,395.9 231.76,395.9 231.76,396.1 233.38,396.1 233.38,396.3 235,396.3 235,396.5 236.67,396.5 236.67,396.13 238.33,396.13 238.33,395.77 240,395.77 240,395.4 241.61,395.4 241.61,395.83 243.23,395.83 243.23,396.27 244.84,396.27 244.84,396.7 246.45,396.7 246.45,397.13 248.07,397.13 248.07,397.57 249.68,397.57 249.68,398 251.29,398 251.29,398.43 252.91,398.43 252.91,398.87 254.52,398.87 254.52,399.3 256.13,399.3 256.13,399.73 257.75,399.73 257.75,400.17 259.36,400.17 259.36,400.6 260.97,400.6 260.97,401.03 262.59,401.03 262.59,401.47 264.2,401.47 264.2,401.9 293.3,401.9 293.3,404.3 303,404.3" fill="none" stroke="#f6c0c0" stroke-width="0.6" stroke-dasharray="2.6,1.6"/>
<polyline points="183.2,378.5 184.85,378.5 184.85,382.25 186.5,382.25 186.5,386 188.1,386 188.1,388.5 189.7,388.5 189.7,391 191.32,391 191.32,391.5 192.95,391.5 192.95,392 194.57,392 194.57,392.5 196.2,392.5 196.2,393 197.8,393 197.8,394.2 199.4,394.2 199.4,395.4 201,395.4 201,396.6 202.6,396.6 202.6,397.8 204.2,397.8 204.2,399 205.82,399 205.82,399.4 207.44,399.4 207.44,399.8 209.06,399.8 209.06,400.2 210.68,400.2 210.68,400.6 212.3,400.6 212.3,401 213.92,401 213.92,401.2 215.54,401.2 215.54,401.4 217.16,401.4 217.16,401.6 218.78,401.6 218.78,401.8 220.4,401.8 220.4,402 222.03,402 222.03,402.75 223.65,402.75 223.65,403.5 225.28,403.5 225.28,404.25 226.9,404.25 226.9,405 228.52,405 228.52,405.2 230.14,405.2 230.14,405.4 231.76,405.4 231.76,405.6 233.38,405.6 233.38,405.8 235,405.8 235,406 236.67,406 236.67,406.8 238.33,406.8 238.33,407.6 240,407.6 240,408.4 241.61,408.4 241.61,408.83 243.23,408.83 243.23,409.25 244.84,409.25 244.84,409.68 246.45,409.68 246.45,410.11 248.07,410.11 248.07,410.53 249.68,410.53 249.68,410.96 251.29,410.96 251.29,411.39 252.91,411.39 252.91,411.81 254.52,411.81 254.52,412.24 256.13,412.24 256.13,412.67 257.75,412.67 257.75,413.09 259.36,413.09 259.36,413.52 260.97,413.52 260.97,413.95 262.59,413.95 262.59,414.37 264.2,414.37 264.2,414.8 265.82,414.8 265.82,415.43 267.44,415.43 267.44,416.07 269.07,416.07 269.07,416.7 270.69,416.7 270.69,417.33 272.31,417.33 272.31,417.97 273.93,417.97 273.93,418.6 275.56,418.6 275.56,419.23 277.18,419.23 277.18,419.87 278.8,419.87 278.8,420.5 293.3,420.5 293.3,452.8 303,452.8" fill="none" stroke="#f6c0c0" stroke-width="0.6" stroke-dasharray="2.6,1.6"/>
<polyline points="183.2,378.5 184.85,378.5 184.85,380.25 186.5,380.25 186.5,382 188.1,382 188.1,384.25 189.7,384.25 189.7,386.5 191.32,386.5 191.32,388 192.95,388 192.95,389.5 194.57,389.5 194.57,391 196.2,391 196.2,392.5 197.8,392.5 197.8,393.8 199.4,393.8 199.4,395.1 201,395.1 201,396.4 202.6,396.4 202.6,397.7 204.2,397.7 204.2,399 205.82,399 205.82,399.8 207.44,399.8 207.44,400.6 209.06,400.6 209.06,401.4 210.68,401.4 210.68,402.2 212.3,402.2 212.3,403 213.92,403 213.92,403.6 215.54,403.6 215.54,404.2 217.16,404.2 217.16,404.8 218.78,404.8 218.78,405.4 220.4,405.4 220.4,406 222.02,406 222.02,406.08 223.63,406.08 223.63,406.17 225.25,406.17 225.25,406.25 226.87,406.25 226.87,406.33 228.48,406.33 228.48,406.42 230.1,406.42 230.1,406.5 231.75,406.5 231.75,406.82 233.4,406.82 233.4,407.13 235.05,407.13 235.05,407.45 236.7,407.45 236.7,407.77 238.35,407.77 238.35,408.08 240,408.08 240,408.4 241.61,408.4 241.61,408.7 243.22,408.7 243.22,409 244.84,409 244.84,409.3 246.45,409.3 246.45,409.6 248.06,409.6 248.06,409.9 249.68,409.9 249.68,410.2 251.29,410.2 251.29,410.5 252.9,410.5 252.9,410.8 254.51,410.8 254.51,411.3 256.13,411.3 256.13,411.8 257.74,411.8 257.74,412.3 259.36,412.3 259.36,412.8 260.97,412.8 260.97,413.3 262.59,413.3 262.59,413.8 264.2,413.8 264.2,414.3 299.8,414.3" fill="none" stroke="#c0c0f6" stroke-width="0.6" stroke-dasharray="2.6,1.6"/>
<polyline points="183.2,378.5 184.85,378.5 184.85,383.25 186.5,383.25 186.5,388 188.1,388 188.1,391 189.7,391 189.7,394 191.32,394 191.32,395.75 192.95,395.75 192.95,397.5 194.57,397.5 194.57,399.25 196.2,399.25 196.2,401 197.8,401 197.8,402.4 199.4,402.4 199.4,403.8 201,403.8 201,405.2 202.6,405.2 202.6,406.6 204.2,406.6 204.2,408 205.82,408 205.82,408.9 207.44,408.9 207.44,409.8 209.06,409.8 209.06,410.7 210.68,410.7 210.68,411.6 212.3,411.6 212.3,412.5 213.92,412.5 213.92,413.2 215.54,413.2 215.54,413.9 217.16,413.9 217.16,414.6 218.78,414.6 218.78,415.3 220.4,415.3 220.4,416 222.02,416 222.02,416.33 223.63,416.33 223.63,416.67 225.25,416.67 225.25,417 226.87,417 226.87,417.33 228.48,417.33 228.48,417.67 230.1,417.67 230.1,418 231.75,418 231.75,419.08 233.4,419.08 233.4,420.17 235.05,420.17 235.05,421.25 236.7,421.25 236.7,422.33 238.35,422.33 238.35,423.42 240,423.42 240,424.5 241.62,424.5 241.62,425.32 243.23,425.32 243.23,426.13 244.85,426.13 244.85,426.95 246.47,426.95 246.47,427.77 248.08,427.77 248.08,428.58 249.7,428.58 249.7,429.4 263.4,429.4 264.2,429.4 264.2,438.3 299,438.3" fill="none" stroke="#c0c0f6" stroke-width="0.6" stroke-dasharray="2.6,1.6"/>
<polyline points="183.2,378.5 184.85,378.5 184.85,380.9 186.5,380.9 186.5,383.3 188.1,383.3 188.1,385.35 189.7,385.35 189.7,387.4 191.32,387.4 191.32,387.8 192.95,387.8 192.95,388.2 194.57,388.2 194.57,388.6 196.2,388.6 196.2,389 197.8,389 197.8,390.12 199.4,390.12 199.4,391.24 201,391.24 201,392.36 202.6,392.36 202.6,393.48 204.2,393.48 204.2,394.6 205.82,394.6 205.82,394.92 207.44,394.92 207.44,395.24 209.06,395.24 209.06,395.56 210.68,395.56 210.68,395.88 212.3,395.88 212.3,396.2 213.92,396.2 213.92,396.38 215.54,396.38 215.54,396.56 217.16,396.56 217.16,396.74 218.78,396.74 218.78,396.92 220.4,396.92 220.4,397.1 222.03,397.1 222.03,397.9 223.65,397.9 223.65,398.7 225.28,398.7 225.28,399.5 226.9,399.5 226.9,400.3 228.52,400.3 228.52,400.46 230.14,400.46 230.14,400.62 231.76,400.62 231.76,400.78 233.38,400.78 233.38,400.94 235,400.94 235,401.1 240,401.1 241.2,401.1 241.2,403.95 242.4,403.95 242.4,406.8 261.8,406.8 264.2,406.8 264.2,410.8 265.9,410.8 265.9,413.2 278,413.2 278.8,413.2 278.8,418.6 293.3,418.6 293.3,432.6 303.9,432.6" fill="none" stroke="#e23c3c" stroke-width="1.1"/>
<polyline points="183.2,378.5 184.85,378.5 184.85,381.7 186.5,381.7 186.5,384.9 188.1,384.9 188.1,387.35 189.7,387.35 189.7,389.8 191.32,389.8 191.32,391.4 192.95,391.4 192.95,393 194.57,393 194.57,394.6 196.2,394.6 196.2,396.2 197.8,396.2 197.8,397.5 199.4,397.5 199.4,398.8 201,398.8 201,400.1 202.6,400.1 202.6,401.4 204.2,401.4 204.2,402.7 205.82,402.7 205.82,403.52 207.44,403.52 207.44,404.34 209.06,404.34 209.06,405.16 210.68,405.16 210.68,405.98 212.3,405.98 212.3,406.8 213.92,406.8 213.92,407.44 215.54,407.44 215.54,408.08 217.16,408.08 217.16,408.72 218.78,408.72 218.78,409.36 220.4,409.36 220.4,410 222.02,410 222.02,410.13 223.63,410.13 223.63,410.27 225.25,410.27 225.25,410.4 226.87,410.4 226.87,410.53 228.48,410.53 228.48,410.67 230.1,410.67 230.1,410.8 231.7,410.8 231.7,411.6 233.3,411.6 233.3,412.4 234.93,412.4 234.93,413.47 236.57,413.47 236.57,414.53 238.2,414.53 238.2,415.6 239.8,415.6 239.8,416.45 241.4,416.45 241.4,417.3 242.88,417.3 242.88,417.4 244.35,417.4 244.35,417.5 245.83,417.5 245.83,417.6 247.3,417.6 247.3,417.7 249.7,417.7 249.7,419.7 251.3,419.7 251.3,420.9 252.9,420.9 252.9,422.1 263.4,422.1 264.2,422.1 264.2,427.3 299.8,427.3" fill="none" stroke="#3c3ce6" stroke-width="1.1"/>
<line x1="200" y1="389.94" x2="200" y2="392.54" stroke="#e23c3c" stroke-width="0.8"/>
<line x1="205" y1="393.3" x2="205" y2="395.9" stroke="#e23c3c" stroke-width="0.8"/>
<line x1="209" y1="393.94" x2="209" y2="396.54" stroke="#e23c3c" stroke-width="0.8"/>
<line x1="213" y1="394.9" x2="213" y2="397.5" stroke="#e23c3c" stroke-width="0.8"/>
<line x1="217" y1="395.26" x2="217" y2="397.86" stroke="#e23c3c" stroke-width="0.8"/>
<line x1="221" y1="395.8" x2="221" y2="398.4" stroke="#e23c3c" stroke-width="0.8"/>
<line x1="225" y1="397.4" x2="225" y2="400" stroke="#e23c3c" stroke-width="0.8"/>
<line x1="229" y1="399.16" x2="229" y2="401.76" stroke="#e23c3c" stroke-width="0.8"/>
<line x1="232" y1="399.48" x2="232" y2="402.08" stroke="#e23c3c" stroke-width="0.8"/>
<line x1="236" y1="399.8" x2="236" y2="402.4" stroke="#e23c3c" stroke-width="0.8"/>
<line x1="240" y1="399.8" x2="240" y2="402.4" stroke="#e23c3c" stroke-width="0.8"/>
<line x1="244" y1="405.5" x2="244" y2="408.1" stroke="#e23c3c" stroke-width="0.8"/>
<line x1="248" y1="405.5" x2="248" y2="408.1" stroke="#e23c3c" stroke-width="0.8"/>
<line x1="252" y1="405.5" x2="252" y2="408.1" stroke="#e23c3c" stroke-width="0.8"/>
<line x1="256" y1="405.5" x2="256" y2="408.1" stroke="#e23c3c" stroke-width="0.8"/>
<line x1="260" y1="405.5" x2="260" y2="408.1" stroke="#e23c3c" stroke-width="0.8"/>
<line x1="264" y1="405.5" x2="264" y2="408.1" stroke="#e23c3c" stroke-width="0.8"/>
<line x1="267" y1="411.9" x2="267" y2="414.5" stroke="#e23c3c" stroke-width="0.8"/>
<line x1="270" y1="411.9" x2="270" y2="414.5" stroke="#e23c3c" stroke-width="0.8"/>
<line x1="273" y1="411.9" x2="273" y2="414.5" stroke="#e23c3c" stroke-width="0.8"/>
<line x1="276" y1="411.9" x2="276" y2="414.5" stroke="#e23c3c" stroke-width="0.8"/>
<line x1="284" y1="417.3" x2="284" y2="419.9" stroke="#e23c3c" stroke-width="0.8"/>
<line x1="290" y1="417.3" x2="290" y2="419.9" stroke="#e23c3c" stroke-width="0.8"/>
<line x1="294" y1="431.3" x2="294" y2="433.9" stroke="#e23c3c" stroke-width="0.8"/>
<line x1="300" y1="431.3" x2="300" y2="433.9" stroke="#e23c3c" stroke-width="0.8"/>
<line x1="302" y1="431.3" x2="302" y2="433.9" stroke="#e23c3c" stroke-width="0.8"/>
<line x1="203" y1="400.1" x2="203" y2="402.7" stroke="#3c3ce6" stroke-width="0.8"/>
<line x1="207" y1="402.22" x2="207" y2="404.82" stroke="#3c3ce6" stroke-width="0.8"/>
<line x1="212" y1="404.68" x2="212" y2="407.28" stroke="#3c3ce6" stroke-width="0.8"/>
<line x1="216" y1="406.78" x2="216" y2="409.38" stroke="#3c3ce6" stroke-width="0.8"/>
<line x1="219" y1="408.06" x2="219" y2="410.66" stroke="#3c3ce6" stroke-width="0.8"/>
<line x1="222" y1="408.7" x2="222" y2="411.3" stroke="#3c3ce6" stroke-width="0.8"/>
<line x1="225" y1="408.97" x2="225" y2="411.57" stroke="#3c3ce6" stroke-width="0.8"/>
<line x1="228" y1="409.23" x2="228" y2="411.83" stroke="#3c3ce6" stroke-width="0.8"/>
<line x1="231" y1="409.5" x2="231" y2="412.1" stroke="#3c3ce6" stroke-width="0.8"/>
<line x1="234" y1="411.1" x2="234" y2="413.7" stroke="#3c3ce6" stroke-width="0.8"/>
<line x1="237" y1="413.23" x2="237" y2="415.83" stroke="#3c3ce6" stroke-width="0.8"/>
<line x1="240" y1="415.15" x2="240" y2="417.75" stroke="#3c3ce6" stroke-width="0.8"/>
<line x1="243" y1="416.1" x2="243" y2="418.7" stroke="#3c3ce6" stroke-width="0.8"/>
<line x1="246" y1="416.3" x2="246" y2="418.9" stroke="#3c3ce6" stroke-width="0.8"/>
<line x1="249" y1="416.4" x2="249" y2="419" stroke="#3c3ce6" stroke-width="0.8"/>
<line x1="252" y1="419.6" x2="252" y2="422.2" stroke="#3c3ce6" stroke-width="0.8"/>
<line x1="258" y1="420.8" x2="258" y2="423.4" stroke="#3c3ce6" stroke-width="0.8"/>
<line x1="268" y1="426" x2="268" y2="428.6" stroke="#3c3ce6" stroke-width="0.8"/>
<line x1="277" y1="426" x2="277" y2="428.6" stroke="#3c3ce6" stroke-width="0.8"/>
<line x1="281" y1="426" x2="281" y2="428.6" stroke="#3c3ce6" stroke-width="0.8"/>
<line x1="283" y1="426" x2="283" y2="428.6" stroke="#3c3ce6" stroke-width="0.8"/>
<line x1="290" y1="426" x2="290" y2="428.6" stroke="#3c3ce6" stroke-width="0.8"/>
<line x1="296" y1="426" x2="296" y2="428.6" stroke="#3c3ce6" stroke-width="0.8"/>
<line x1="180.1" y1="487.6" x2="182.5" y2="487.6" stroke="#666" stroke-width="0.8"/>
<text x="175.6" y="487.6" font-size="5.3" text-anchor="middle" transform="rotate(-90 175.6 487.6)" stroke="#111" stroke-width="0.1">0.0</text>
<line x1="180.1" y1="465.72" x2="182.5" y2="465.72" stroke="#666" stroke-width="0.8"/>
<text x="175.6" y="465.72" font-size="5.3" text-anchor="middle" transform="rotate(-90 175.6 465.72)" stroke="#111" stroke-width="0.1">0.2</text>
<line x1="180.1" y1="443.84" x2="182.5" y2="443.84" stroke="#666" stroke-width="0.8"/>
<text x="175.6" y="443.84" font-size="5.3" text-anchor="middle" transform="rotate(-90 175.6 443.84)" stroke="#111" stroke-width="0.1">0.4</text>
<line x1="180.1" y1="421.96" x2="182.5" y2="421.96" stroke="#666" stroke-width="0.8"/>
<text x="175.6" y="421.96" font-size="5.3" text-anchor="middle" transform="rotate(-90 175.6 421.96)" stroke="#111" stroke-width="0.1">0.6</text>
<line x1="180.1" y1="400.08" x2="182.5" y2="400.08" stroke="#666" stroke-width="0.8"/>
<text x="175.6" y="400.08" font-size="5.3" text-anchor="middle" transform="rotate(-90 175.6 400.08)" stroke="#111" stroke-width="0.1">0.8</text>
<line x1="180.1" y1="378.2" x2="182.5" y2="378.2" stroke="#666" stroke-width="0.8"/>
<text x="175.6" y="378.2" font-size="5.3" text-anchor="middle" transform="rotate(-90 175.6 378.2)" stroke="#111" stroke-width="0.1">1.0</text>
<line x1="182.5" y1="492" x2="182.5" y2="494.6" stroke="#666" stroke-width="0.8"/>
<text x="182.5" y="503.1" font-size="5.2" text-anchor="middle" stroke="#111" stroke-width="0.1">0</text>
<line x1="200.12" y1="492" x2="200.12" y2="494.6" stroke="#666" stroke-width="0.8"/>
<text x="200.12" y="503.1" font-size="5.2" text-anchor="middle" stroke="#111" stroke-width="0.1">20</text>
<line x1="217.74" y1="492" x2="217.74" y2="494.6" stroke="#666" stroke-width="0.8"/>
<text x="217.74" y="503.1" font-size="5.2" text-anchor="middle" stroke="#111" stroke-width="0.1">40</text>
<line x1="235.36" y1="492" x2="235.36" y2="494.6" stroke="#666" stroke-width="0.8"/>
<text x="235.36" y="503.1" font-size="5.2" text-anchor="middle" stroke="#111" stroke-width="0.1">60</text>
<line x1="252.98" y1="492" x2="252.98" y2="494.6" stroke="#666" stroke-width="0.8"/>
<text x="252.98" y="503.1" font-size="5.2" text-anchor="middle" stroke="#111" stroke-width="0.1">80</text>
<line x1="270.6" y1="492" x2="270.6" y2="494.6" stroke="#666" stroke-width="0.8"/>
<text x="270.6" y="503.1" font-size="5.2" text-anchor="middle" stroke="#111" stroke-width="0.1">100</text>
<line x1="288.22" y1="492" x2="288.22" y2="494.6" stroke="#666" stroke-width="0.8"/>
<text x="288.22" y="503.1" font-size="5.2" text-anchor="middle" stroke="#111" stroke-width="0.1">120</text>
<line x1="305.84" y1="492" x2="305.84" y2="494.6" stroke="#666" stroke-width="0.8"/>
<text x="305.84" y="503.1" font-size="5.2" text-anchor="middle" stroke="#111" stroke-width="0.1">140</text>
<text x="244.85" y="512.7" font-size="7" text-anchor="middle" fill="#000">Months</text>
<text x="165.8" y="432.9" font-size="6.7" text-anchor="middle" fill="#000" transform="rotate(-90 165.8 432.9)">Percent survival</text>
<text x="244.85" y="371.5" font-size="7.7" text-anchor="middle">Disease Free Survival</text>
<line x1="248.7" y1="379.7" x2="257.9" y2="379.7" stroke="#5a5af0" stroke-width="0.9"/>
<line x1="248.7" y1="384.7" x2="257.9" y2="384.7" stroke="#f06060" stroke-width="0.9"/>
<text x="260.4" y="381.4" font-size="5.15" fill="#000" stroke="#000" stroke-width="0.08">Low TERF2 Group</text>
<text x="260.4" y="386.4" font-size="5.15" fill="#000" stroke="#000" stroke-width="0.08">High TERF2 Group</text>
<text x="303.5" y="392.4" font-size="5.15" text-anchor="end" fill="#000" stroke="#000" stroke-width="0.08">Logrank p=0.014</text>
<text x="303.5" y="398.5" font-size="5.15" text-anchor="end" fill="#000" stroke="#000" stroke-width="0.08">HR(high)=0.64</text>
<text x="303.5" y="404.6" font-size="5.15" text-anchor="end" fill="#000" stroke="#000" stroke-width="0.08">p(HR)=0.015</text>
<text x="303.5" y="410.7" font-size="5.15" text-anchor="end" fill="#000" stroke="#000" stroke-width="0.08">n(high)=258</text>
<text x="303.5" y="416.8" font-size="5.15" text-anchor="end" fill="#000" stroke="#000" stroke-width="0.08">n(low)=257</text>
<rect x="338.4" y="373.8" width="124.7" height="118.2" fill="none" stroke="#9a9a9a" stroke-width="0.9"/>
<polyline points="338.4,378.5 339.86,378.5 339.86,380.1 341.32,380.1 341.32,381.7 342.78,381.7 342.78,383.3 344.24,383.3 344.24,384.9 345.7,384.9 345.7,386.5 347.32,386.5 347.32,388.12 348.95,388.12 348.95,389.75 350.57,389.75 350.57,391.38 352.2,391.38 352.2,393 353.8,393 353.8,393.48 355.4,393.48 355.4,393.96 357,393.96 357,394.44 358.6,394.44 358.6,394.92 360.2,394.92 360.2,395.4 361.82,395.4 361.82,395.74 363.44,395.74 363.44,396.08 365.06,396.08 365.06,396.42 366.68,396.42 366.68,396.76 368.3,396.76 368.3,397.1 369.92,397.1 369.92,397.9 371.54,397.9 371.54,398.7 373.16,398.7 373.16,399.5 374.78,399.5 374.78,400.3 376.4,400.3 376.4,401.1 378.02,401.1 378.02,401.74 379.64,401.74 379.64,402.38 381.26,402.38 381.26,403.02 382.88,403.02 382.88,403.66 384.5,403.66 384.5,404.3 386.12,404.3 386.12,404.93 387.75,404.93 387.75,405.55 389.38,405.55 389.38,406.18 391,406.18 391,406.8 392.57,406.8 392.57,406.91 394.14,406.91 394.14,407.03 395.71,407.03 395.71,407.14 397.29,407.14 397.29,407.26 398.86,407.26 398.86,407.37 400.43,407.37 400.43,407.49 402,407.49 402,407.6 404.1,407.6 404.1,410.8 458,410.8" fill="none" stroke="#c0c0f6" stroke-width="0.6" stroke-dasharray="2.6,1.6"/>
<polyline points="338.4,378.5 339.86,378.5 339.86,381.4 341.32,381.4 341.32,384.3 342.78,384.3 342.78,387.2 344.24,387.2 344.24,390.1 345.7,390.1 345.7,393 347.32,393 347.32,395.43 348.95,395.43 348.95,397.85 350.57,397.85 350.57,400.27 352.2,400.27 352.2,402.7 353.8,402.7 353.8,403.84 355.4,403.84 355.4,404.98 357,404.98 357,406.12 358.6,406.12 358.6,407.26 360.2,407.26 360.2,408.4 361.82,408.4 361.82,408.88 363.44,408.88 363.44,409.36 365.06,409.36 365.06,409.84 366.68,409.84 366.68,410.32 368.3,410.32 368.3,410.8 369.92,410.8 369.92,411.76 371.54,411.76 371.54,412.72 373.16,412.72 373.16,413.68 374.78,413.68 374.78,414.64 376.4,414.64 376.4,415.6 378.02,415.6 378.02,416.9 379.64,416.9 379.64,418.2 381.26,418.2 381.26,419.5 382.88,419.5 382.88,420.8 384.5,420.8 384.5,422.1 386.1,422.1 386.1,424 387.7,424 387.7,425.9 389.3,425.9 389.3,427.8 390.93,427.8 390.93,428.3 392.55,428.3 392.55,428.8 394.18,428.8 394.18,429.3 395.8,429.3 395.8,429.8 397.43,429.8 397.43,430.3 399.05,430.3 399.05,430.8 400.68,430.8 400.68,431.3 402.3,431.3 402.3,431.8 404.1,431.8 404.1,448 439.3,448 439.3,472.2 457.4,472.2" fill="none" stroke="#c0c0f6" stroke-width="0.6" stroke-dasharray="2.6,1.6"/>
<polyline points="338.4,378.5 339.86,378.5 339.86,380.76 341.32,380.76 341.32,383.02 342.78,383.02 342.78,385.28 344.24,385.28 344.24,387.54 345.7,387.54 345.7,389.8 347.32,389.8 347.32,393.02 348.95,393.02 348.95,396.25 350.57,396.25 350.57,399.48 352.2,399.48 352.2,402.7 353.8,402.7 353.8,404 355.4,404 355.4,405.3 357,405.3 357,406.6 358.6,406.6 358.6,407.9 360.2,407.9 360.2,409.2 361.82,409.2 361.82,409.84 363.44,409.84 363.44,410.48 365.06,410.48 365.06,411.12 366.68,411.12 366.68,411.76 368.3,411.76 368.3,412.4 369.92,412.4 369.92,412.88 371.54,412.88 371.54,413.36 373.16,413.36 373.16,413.84 374.78,413.84 374.78,414.32 376.4,414.32 376.4,414.8 378.02,414.8 378.02,415.94 379.64,415.94 379.64,417.08 381.26,417.08 381.26,418.22 382.88,418.22 382.88,419.36 384.5,419.36 384.5,420.5 386.12,420.5 386.12,421.93 387.75,421.93 387.75,423.35 389.38,423.35 389.38,424.77 391,424.77 391,426.2 443.7,426.2" fill="none" stroke="#f6c0c0" stroke-width="0.6" stroke-dasharray="2.6,1.6"/>
<polyline points="338.4,378.5 339.86,378.5 339.86,381.4 341.32,381.4 341.32,384.3 342.78,384.3 342.78,387.2 344.24,387.2 344.24,390.1 345.7,390.1 345.7,393 347.32,393 347.32,397.45 348.95,397.45 348.95,401.9 350.57,401.9 350.57,406.35 352.2,406.35 352.2,410.8 353.8,410.8 353.8,413.38 355.4,413.38 355.4,415.96 357,415.96 357,418.54 358.6,418.54 358.6,421.12 360.2,421.12 360.2,423.7 361.82,423.7 361.82,425 363.44,425 363.44,426.3 365.06,426.3 365.06,427.6 366.68,427.6 366.68,428.9 368.3,428.9 368.3,430.2 369.92,430.2 369.92,430.68 371.54,430.68 371.54,431.16 373.16,431.16 373.16,431.64 374.78,431.64 374.78,432.12 376.4,432.12 376.4,432.6 378.03,432.6 378.03,436.37 379.67,436.37 379.67,440.13 381.3,440.13 381.3,443.9 389.3,443.9 391,443.9 391,451.2 444.5,451.2" fill="none" stroke="#f6c0c0" stroke-width="0.6" stroke-dasharray="2.6,1.6"/>
<polyline points="338.4,378.5 340.05,378.5 340.05,379.7 341.7,379.7 341.7,380.9 342.9,380.9 342.9,383.3 344.1,383.3 344.1,385.7 346.5,385.7 346.5,392.2 348.5,392.2 348.5,394.2 350.5,394.2 350.5,396.2 352.13,396.2 352.13,397.83 353.77,397.83 353.77,399.47 355.4,399.47 355.4,401.1 357,401.1 357,401.9 358.6,401.9 358.6,402.7 360.2,402.7 360.2,403.5 361.82,403.5 361.82,403.66 363.44,403.66 363.44,403.82 365.06,403.82 365.06,403.98 366.68,403.98 366.68,404.14 368.3,404.14 368.3,404.3 369.95,404.3 369.95,405.55 371.6,405.55 371.6,406.8 373.2,406.8 373.2,407.6 374.8,407.6 374.8,408.4 376.4,408.4 376.4,409.2 378,409.2 378,411.2 379.6,411.2 379.6,413.2 381.23,413.2 381.23,413.73 382.87,413.73 382.87,414.27 384.5,414.27 384.5,414.8 386.1,414.8 386.1,416.85 387.7,416.85 387.7,418.9 388.95,418.9 388.95,419.7 390.2,419.7 390.2,420.5 404.1,420.5 404.1,427 407.6,427 407.6,433.1 439.3,433.1 439.3,451.2 458.2,451.2" fill="none" stroke="#3c3ce6" stroke-width="1.1"/>
<polyline points="338.4,378.5 340.05,378.5 340.05,380.1 341.7,380.1 341.7,381.7 342.9,381.7 342.9,384.95 344.1,384.95 344.1,388.2 345.7,388.2 345.7,391.4 347.3,391.4 347.3,394.6 348.9,394.6 348.9,397.85 350.5,397.85 350.5,401.1 352.15,401.1 352.15,404.35 353.8,404.35 353.8,407.6 355.4,407.6 355.4,411.2 357,411.2 357,414.8 358.6,414.8 358.6,416.85 360.2,416.85 360.2,418.9 361.83,418.9 361.83,419.97 363.47,419.97 363.47,421.03 365.1,421.03 365.1,422.1 366.73,422.1 366.73,422.63 368.37,422.63 368.37,423.17 370,423.17 370,423.7 371.6,423.7 371.6,423.97 373.2,423.97 373.2,424.23 374.8,424.23 374.8,424.5 376.4,424.5 376.4,425.75 378,425.75 378,427 379.6,427 379.6,431 381.25,431 381.25,432.6 382.9,432.6 382.9,434.2 389.3,434.2 391,434.2 391,440.7 444.5,440.7" fill="none" stroke="#e23c3c" stroke-width="1.1"/>
<line x1="356" y1="409.9" x2="356" y2="412.5" stroke="#e23c3c" stroke-width="0.8"/>
<line x1="360" y1="415.55" x2="360" y2="418.15" stroke="#e23c3c" stroke-width="0.8"/>
<line x1="363" y1="418.67" x2="363" y2="421.27" stroke="#e23c3c" stroke-width="0.8"/>
<line x1="366" y1="420.8" x2="366" y2="423.4" stroke="#e23c3c" stroke-width="0.8"/>
<line x1="370" y1="421.87" x2="370" y2="424.47" stroke="#e23c3c" stroke-width="0.8"/>
<line x1="375" y1="423.2" x2="375" y2="425.8" stroke="#e23c3c" stroke-width="0.8"/>
<line x1="380" y1="429.7" x2="380" y2="432.3" stroke="#e23c3c" stroke-width="0.8"/>
<line x1="384" y1="432.9" x2="384" y2="435.5" stroke="#e23c3c" stroke-width="0.8"/>
<line x1="390" y1="432.9" x2="390" y2="435.5" stroke="#e23c3c" stroke-width="0.8"/>
<line x1="394" y1="439.4" x2="394" y2="442" stroke="#e23c3c" stroke-width="0.8"/>
<line x1="396" y1="439.4" x2="396" y2="442" stroke="#e23c3c" stroke-width="0.8"/>
<line x1="401" y1="439.4" x2="401" y2="442" stroke="#e23c3c" stroke-width="0.8"/>
<line x1="404" y1="439.4" x2="404" y2="442" stroke="#e23c3c" stroke-width="0.8"/>
<line x1="408" y1="439.4" x2="408" y2="442" stroke="#e23c3c" stroke-width="0.8"/>
<line x1="410" y1="439.4" x2="410" y2="442" stroke="#e23c3c" stroke-width="0.8"/>
<line x1="420" y1="439.4" x2="420" y2="442" stroke="#e23c3c" stroke-width="0.8"/>
<line x1="421" y1="439.4" x2="421" y2="442" stroke="#e23c3c" stroke-width="0.8"/>
<line x1="425" y1="439.4" x2="425" y2="442" stroke="#e23c3c" stroke-width="0.8"/>
<line x1="432" y1="439.4" x2="432" y2="442" stroke="#e23c3c" stroke-width="0.8"/>
<line x1="436" y1="439.4" x2="436" y2="442" stroke="#e23c3c" stroke-width="0.8"/>
<line x1="439" y1="439.4" x2="439" y2="442" stroke="#e23c3c" stroke-width="0.8"/>
<line x1="442" y1="439.4" x2="442" y2="442" stroke="#e23c3c" stroke-width="0.8"/>
<line x1="355" y1="398.17" x2="355" y2="400.77" stroke="#3c3ce6" stroke-width="0.8"/>
<line x1="359" y1="401.4" x2="359" y2="404" stroke="#3c3ce6" stroke-width="0.8"/>
<line x1="362" y1="402.36" x2="362" y2="404.96" stroke="#3c3ce6" stroke-width="0.8"/>
<line x1="364" y1="402.52" x2="364" y2="405.12" stroke="#3c3ce6" stroke-width="0.8"/>
<line x1="366" y1="402.68" x2="366" y2="405.28" stroke="#3c3ce6" stroke-width="0.8"/>
<line x1="368" y1="402.84" x2="368" y2="405.44" stroke="#3c3ce6" stroke-width="0.8"/>
<line x1="370" y1="404.25" x2="370" y2="406.85" stroke="#3c3ce6" stroke-width="0.8"/>
<line x1="373" y1="405.5" x2="373" y2="408.1" stroke="#3c3ce6" stroke-width="0.8"/>
<line x1="376" y1="407.1" x2="376" y2="409.7" stroke="#3c3ce6" stroke-width="0.8"/>
<line x1="382" y1="412.43" x2="382" y2="415.03" stroke="#3c3ce6" stroke-width="0.8"/>
<line x1="386" y1="413.5" x2="386" y2="416.1" stroke="#3c3ce6" stroke-width="0.8"/>
<line x1="390" y1="418.4" x2="390" y2="421" stroke="#3c3ce6" stroke-width="0.8"/>
<line x1="393" y1="419.2" x2="393" y2="421.8" stroke="#3c3ce6" stroke-width="0.8"/>
<line x1="396" y1="419.2" x2="396" y2="421.8" stroke="#3c3ce6" stroke-width="0.8"/>
<line x1="398" y1="419.2" x2="398" y2="421.8" stroke="#3c3ce6" stroke-width="0.8"/>
<line x1="400" y1="419.2" x2="400" y2="421.8" stroke="#3c3ce6" stroke-width="0.8"/>
<line x1="407" y1="425.7" x2="407" y2="428.3" stroke="#3c3ce6" stroke-width="0.8"/>
<line x1="417" y1="431.8" x2="417" y2="434.4" stroke="#3c3ce6" stroke-width="0.8"/>
<line x1="420" y1="431.8" x2="420" y2="434.4" stroke="#3c3ce6" stroke-width="0.8"/>
<line x1="424" y1="431.8" x2="424" y2="434.4" stroke="#3c3ce6" stroke-width="0.8"/>
<line x1="442" y1="449.9" x2="442" y2="452.5" stroke="#3c3ce6" stroke-width="0.8"/>
<line x1="457" y1="449.9" x2="457" y2="452.5" stroke="#3c3ce6" stroke-width="0.8"/>
<line x1="336" y1="487.6" x2="338.4" y2="487.6" stroke="#666" stroke-width="0.8"/>
<text x="331.5" y="487.6" font-size="5.3" text-anchor="middle" transform="rotate(-90 331.5 487.6)" stroke="#111" stroke-width="0.1">0.0</text>
<line x1="336" y1="465.72" x2="338.4" y2="465.72" stroke="#666" stroke-width="0.8"/>
<text x="331.5" y="465.72" font-size="5.3" text-anchor="middle" transform="rotate(-90 331.5 465.72)" stroke="#111" stroke-width="0.1">0.2</text>
<line x1="336" y1="443.84" x2="338.4" y2="443.84" stroke="#666" stroke-width="0.8"/>
<text x="331.5" y="443.84" font-size="5.3" text-anchor="middle" transform="rotate(-90 331.5 443.84)" stroke="#111" stroke-width="0.1">0.4</text>
<line x1="336" y1="421.96" x2="338.4" y2="421.96" stroke="#666" stroke-width="0.8"/>
<text x="331.5" y="421.96" font-size="5.3" text-anchor="middle" transform="rotate(-90 331.5 421.96)" stroke="#111" stroke-width="0.1">0.6</text>
<line x1="336" y1="400.08" x2="338.4" y2="400.08" stroke="#666" stroke-width="0.8"/>
<text x="331.5" y="400.08" font-size="5.3" text-anchor="middle" transform="rotate(-90 331.5 400.08)" stroke="#111" stroke-width="0.1">0.8</text>
<line x1="336" y1="378.2" x2="338.4" y2="378.2" stroke="#666" stroke-width="0.8"/>
<text x="331.5" y="378.2" font-size="5.3" text-anchor="middle" transform="rotate(-90 331.5 378.2)" stroke="#111" stroke-width="0.1">1.0</text>
<line x1="338.4" y1="492" x2="338.4" y2="494.6" stroke="#666" stroke-width="0.8"/>
<text x="338.4" y="503.1" font-size="5.2" text-anchor="middle" stroke="#111" stroke-width="0.1">0</text>
<line x1="372.15" y1="492" x2="372.15" y2="494.6" stroke="#666" stroke-width="0.8"/>
<text x="372.15" y="503.1" font-size="5.2" text-anchor="middle" stroke="#111" stroke-width="0.1">50</text>
<line x1="405.9" y1="492" x2="405.9" y2="494.6" stroke="#666" stroke-width="0.8"/>
<text x="405.9" y="503.1" font-size="5.2" text-anchor="middle" stroke="#111" stroke-width="0.1">100</text>
<line x1="439.65" y1="492" x2="439.65" y2="494.6" stroke="#666" stroke-width="0.8"/>
<text x="439.65" y="503.1" font-size="5.2" text-anchor="middle" stroke="#111" stroke-width="0.1">150</text>
<text x="400.75" y="512.7" font-size="7" text-anchor="middle" fill="#000">Months</text>
<text x="321.7" y="432.9" font-size="6.7" text-anchor="middle" fill="#000" transform="rotate(-90 321.7 432.9)">Percent survival</text>
<text x="400.75" y="371.5" font-size="7.7" text-anchor="middle">Disease Free Survival</text>
<line x1="404.6" y1="379.7" x2="413.8" y2="379.7" stroke="#5a5af0" stroke-width="0.9"/>
<line x1="404.6" y1="384.7" x2="413.8" y2="384.7" stroke="#f06060" stroke-width="0.9"/>
<text x="416.3" y="381.4" font-size="5.15" fill="#000" stroke="#000" stroke-width="0.08">Low TERF2 Group</text>
<text x="416.3" y="386.4" font-size="5.15" fill="#000" stroke="#000" stroke-width="0.08">High TERF2 Group</text>
<text x="459.4" y="392.4" font-size="5.15" text-anchor="end" fill="#000" stroke="#000" stroke-width="0.08">Logrank p=0.024</text>
<text x="459.4" y="398.5" font-size="5.15" text-anchor="end" fill="#000" stroke="#000" stroke-width="0.08">HR(high)=1.5</text>
<text x="459.4" y="404.6" font-size="5.15" text-anchor="end" fill="#000" stroke="#000" stroke-width="0.08">p(HR)=0.025</text>
<text x="459.4" y="410.7" font-size="5.15" text-anchor="end" fill="#000" stroke="#000" stroke-width="0.08">n(high)=241</text>
<text x="459.4" y="416.8" font-size="5.15" text-anchor="end" fill="#000" stroke="#000" stroke-width="0.08">n(low)=241</text>
<rect x="499.1" y="373.8" width="124.7" height="118.2" fill="none" stroke="#9a9a9a" stroke-width="0.9"/>
<polyline points="499.4,378.5 543.1,378.5 543.1,380.1 619.4,380.1" fill="none" stroke="#c0c0f6" stroke-width="0.6" stroke-dasharray="2.6,1.6"/>
<polyline points="499.4,378.5 502.7,378.5 502.7,386.5 511.5,386.5 511.5,393 521.2,393 521.2,398.7 529.3,398.7 529.3,404.3 543.1,404.3 543.1,412.4 571.4,412.4 571.4,460.9 619,460.9" fill="none" stroke="#c0c0f6" stroke-width="0.6" stroke-dasharray="2.6,1.6"/>
<polyline points="499.4,378.5 517.2,379.3 521.2,381.7 526.1,384.9 533.4,389.8 539.8,392.2 550.3,393 558.4,397.9 561.7,404.3 563.3,414.8 585.1,414.8" fill="none" stroke="#f6c0c0" stroke-width="0.6" stroke-dasharray="2.6,1.6"/>
<polyline points="499.4,378.5 501.8,384.1 505.9,388.2 517.2,393 521.2,402.7 526.1,409.2 533.4,414.8 539.8,420.5 550.3,430.2 558.4,438.3 562.5,469 564.1,475.5 585.9,475.5" fill="none" stroke="#f6c0c0" stroke-width="0.6" stroke-dasharray="2.6,1.6"/>
<polyline points="499.4,378.5 502.7,378.5 502.7,381.2 511.5,381.2 511.5,384.6 521.2,384.6 521.2,388.2 529.3,388.2 529.3,392.5 543.1,392.5 543.1,397.5 571.4,397.5 571.4,427.4 619.4,427.4" fill="none" stroke="#3c3ce6" stroke-width="1.1"/>
<polyline points="499.4,378.5 501.8,378.5 501.8,381.7 505.9,381.7 505.9,384.1 517.2,384.1 517.2,387.4 518.8,387.4 518.8,389.8 521.2,389.8 521.2,393.3 526.1,393.3 526.1,397.1 527.7,397.1 527.7,400.3 533.4,400.3 533.4,404.3 535.8,404.3 535.8,409.2 539.8,409.2 539.8,413.7 550.3,413.7 550.3,419.7 558,419.7 558,428.6 558.4,428.6 558.4,429.4 560,429.4 560,439.1 562.5,439.1 562.5,449.6 563.6,449.6 563.6,458.5 585.9,458.5" fill="none" stroke="#e23c3c" stroke-width="1.1"/>
<line x1="508.3" y1="379.9" x2="508.3" y2="382.5" stroke="#3c3ce6" stroke-width="0.8"/>
<line x1="526.1" y1="386.9" x2="526.1" y2="389.5" stroke="#3c3ce6" stroke-width="0.8"/>
<line x1="532.6" y1="391.2" x2="532.6" y2="393.8" stroke="#3c3ce6" stroke-width="0.8"/>
<line x1="536.6" y1="391.2" x2="536.6" y2="393.8" stroke="#3c3ce6" stroke-width="0.8"/>
<line x1="548.7" y1="396.2" x2="548.7" y2="398.8" stroke="#3c3ce6" stroke-width="0.8"/>
<line x1="552.8" y1="396.2" x2="552.8" y2="398.8" stroke="#3c3ce6" stroke-width="0.8"/>
<line x1="556" y1="396.2" x2="556" y2="398.8" stroke="#3c3ce6" stroke-width="0.8"/>
<line x1="560.8" y1="396.2" x2="560.8" y2="398.8" stroke="#3c3ce6" stroke-width="0.8"/>
<line x1="566.5" y1="396.2" x2="566.5" y2="398.8" stroke="#3c3ce6" stroke-width="0.8"/>
<line x1="568.9" y1="396.2" x2="568.9" y2="398.8" stroke="#3c3ce6" stroke-width="0.8"/>
<line x1="615" y1="426.1" x2="615" y2="428.7" stroke="#3c3ce6" stroke-width="0.8"/>
<line x1="618.2" y1="426.1" x2="618.2" y2="428.7" stroke="#3c3ce6" stroke-width="0.8"/>
<line x1="522" y1="392" x2="522" y2="394.6" stroke="#e23c3c" stroke-width="0.8"/>
<line x1="529.3" y1="399" x2="529.3" y2="401.6" stroke="#e23c3c" stroke-width="0.8"/>
<line x1="531" y1="399" x2="531" y2="401.6" stroke="#e23c3c" stroke-width="0.8"/>
<line x1="543.9" y1="412.4" x2="543.9" y2="415" stroke="#e23c3c" stroke-width="0.8"/>
<line x1="547.1" y1="412.4" x2="547.1" y2="415" stroke="#e23c3c" stroke-width="0.8"/>
<line x1="548.7" y1="412.4" x2="548.7" y2="415" stroke="#e23c3c" stroke-width="0.8"/>
<line x1="552.8" y1="418.4" x2="552.8" y2="421" stroke="#e23c3c" stroke-width="0.8"/>
<line x1="577" y1="457.2" x2="577" y2="459.8" stroke="#e23c3c" stroke-width="0.8"/>
<line x1="585.9" y1="457.2" x2="585.9" y2="459.8" stroke="#e23c3c" stroke-width="0.8"/>
<line x1="496.7" y1="487.6" x2="499.1" y2="487.6" stroke="#666" stroke-width="0.8"/>
<text x="492.2" y="487.6" font-size="5.3" text-anchor="middle" transform="rotate(-90 492.2 487.6)" stroke="#111" stroke-width="0.1">0.0</text>
<line x1="496.7" y1="465.72" x2="499.1" y2="465.72" stroke="#666" stroke-width="0.8"/>
<text x="492.2" y="465.72" font-size="5.3" text-anchor="middle" transform="rotate(-90 492.2 465.72)" stroke="#111" stroke-width="0.1">0.2</text>
<line x1="496.7" y1="443.84" x2="499.1" y2="443.84" stroke="#666" stroke-width="0.8"/>
<text x="492.2" y="443.84" font-size="5.3" text-anchor="middle" transform="rotate(-90 492.2 443.84)" stroke="#111" stroke-width="0.1">0.4</text>
<line x1="496.7" y1="421.96" x2="499.1" y2="421.96" stroke="#666" stroke-width="0.8"/>
<text x="492.2" y="421.96" font-size="5.3" text-anchor="middle" transform="rotate(-90 492.2 421.96)" stroke="#111" stroke-width="0.1">0.6</text>
<line x1="496.7" y1="400.08" x2="499.1" y2="400.08" stroke="#666" stroke-width="0.8"/>
<text x="492.2" y="400.08" font-size="5.3" text-anchor="middle" transform="rotate(-90 492.2 400.08)" stroke="#111" stroke-width="0.1">0.8</text>
<line x1="496.7" y1="378.2" x2="499.1" y2="378.2" stroke="#666" stroke-width="0.8"/>
<text x="492.2" y="378.2" font-size="5.3" text-anchor="middle" transform="rotate(-90 492.2 378.2)" stroke="#111" stroke-width="0.1">1.0</text>
<line x1="499.1" y1="492" x2="499.1" y2="494.6" stroke="#666" stroke-width="0.8"/>
<text x="499.1" y="503.1" font-size="5.2" text-anchor="middle" stroke="#111" stroke-width="0.1">0</text>
<line x1="526.62" y1="492" x2="526.62" y2="494.6" stroke="#666" stroke-width="0.8"/>
<text x="526.62" y="503.1" font-size="5.2" text-anchor="middle" stroke="#111" stroke-width="0.1">20</text>
<line x1="554.14" y1="492" x2="554.14" y2="494.6" stroke="#666" stroke-width="0.8"/>
<text x="554.14" y="503.1" font-size="5.2" text-anchor="middle" stroke="#111" stroke-width="0.1">40</text>
<line x1="581.66" y1="492" x2="581.66" y2="494.6" stroke="#666" stroke-width="0.8"/>
<text x="581.66" y="503.1" font-size="5.2" text-anchor="middle" stroke="#111" stroke-width="0.1">60</text>
<line x1="609.18" y1="492" x2="609.18" y2="494.6" stroke="#666" stroke-width="0.8"/>
<text x="609.18" y="503.1" font-size="5.2" text-anchor="middle" stroke="#111" stroke-width="0.1">80</text>
<text x="561.45" y="512.7" font-size="7" text-anchor="middle" fill="#000">Months</text>
<text x="482.4" y="432.9" font-size="6.7" text-anchor="middle" fill="#000" transform="rotate(-90 482.4 432.9)">Percent survival</text>
<text x="561.45" y="371.5" font-size="7.7" text-anchor="middle">Overall Survival</text>
<line x1="565.3" y1="379.7" x2="574.5" y2="379.7" stroke="#5a5af0" stroke-width="0.9"/>
<line x1="565.3" y1="384.7" x2="574.5" y2="384.7" stroke="#f06060" stroke-width="0.9"/>
<text x="577" y="381.4" font-size="5.15" fill="#000" stroke="#000" stroke-width="0.08">Low TERF2 Group</text>
<text x="577" y="386.4" font-size="5.15" fill="#000" stroke="#000" stroke-width="0.08">High TERF2 Group</text>
<text x="620.1" y="392.4" font-size="5.15" text-anchor="end" fill="#000" stroke="#000" stroke-width="0.08">Logrank p=0.034</text>
<text x="620.1" y="398.5" font-size="5.15" text-anchor="end" fill="#000" stroke="#000" stroke-width="0.08">HR(high)=2.7</text>
<text x="620.1" y="404.6" font-size="5.15" text-anchor="end" fill="#000" stroke="#000" stroke-width="0.08">p(HR)=0.042</text>
<text x="620.1" y="410.7" font-size="5.15" text-anchor="end" fill="#000" stroke="#000" stroke-width="0.08">n(high)=39</text>
<text x="620.1" y="416.8" font-size="5.15" text-anchor="end" fill="#000" stroke="#000" stroke-width="0.08">n(low)=39</text>
<path d="M72.00,605.00 C71.63,605.33 70.57,606.10 69.80,607.00 C69.03,607.90 68.02,609.23 67.40,610.40 C66.78,611.57 66.43,612.65 66.10,614.00 C65.77,615.35 65.40,617.17 65.40,618.50 C65.40,619.83 65.68,620.65 66.10,622.00 C66.52,623.35 67.00,624.48 67.90,626.60 C68.80,628.72 70.28,632.00 71.50,634.70 C72.72,637.40 74.02,640.10 75.20,642.80 C76.38,645.50 78.03,649.28 78.60,650.90 C79.17,652.52 78.60,652.23 78.60,652.50 L86.00,652.50 C86.00,652.23 85.43,652.52 86.00,650.90 C86.57,649.28 88.22,645.50 89.40,642.80 C90.58,640.10 91.88,637.40 93.10,634.70 C94.32,632.00 95.80,628.72 96.70,626.60 C97.60,624.48 98.08,623.35 98.50,622.00 C98.92,620.65 99.20,619.83 99.20,618.50 C99.20,617.17 98.83,615.35 98.50,614.00 C98.17,612.65 97.82,611.57 97.20,610.40 C96.58,609.23 95.57,607.90 94.80,607.00 C94.03,606.10 92.97,605.33 92.60,605.00 Z" fill="#bfbfbf" stroke="#5a5a5a" stroke-width="0.7"/>
<line x1="82.3" y1="605" x2="82.3" y2="652.5" stroke="#777" stroke-width="0.6"/>
<rect x="80.8" y="611.9" width="3" height="19.8" fill="#000"/>
<rect x="81.8" y="619" width="1" height="1" fill="#fff"/>
<path d="M123.20,595.20 C123.05,595.67 122.83,596.78 122.30,598.00 C121.77,599.22 120.88,601.17 120.00,602.50 C119.12,603.83 118.25,604.53 117.00,606.00 C115.75,607.47 114.00,608.97 112.50,611.30 C111.00,613.63 108.97,617.08 108.00,620.00 C107.03,622.92 106.45,625.88 106.70,628.80 C106.95,631.72 108.02,634.58 109.50,637.50 C110.98,640.42 113.90,643.38 115.60,646.30 C117.30,649.22 118.63,652.08 119.70,655.00 C120.77,657.92 121.50,661.47 122.00,663.80 C122.50,666.13 122.53,666.30 122.70,669.00 C122.87,671.70 122.95,673.63 123.00,680.00 C123.05,686.37 123.00,702.67 123.00,707.20 L124.00,707.20 C124.00,702.67 123.95,686.37 124.00,680.00 C124.05,673.63 124.13,671.70 124.30,669.00 C124.47,666.30 124.50,666.13 125.00,663.80 C125.50,661.47 126.23,657.92 127.30,655.00 C128.37,652.08 129.70,649.22 131.40,646.30 C133.10,643.38 136.02,640.42 137.50,637.50 C138.98,634.58 140.05,631.72 140.30,628.80 C140.55,625.88 139.97,622.92 139.00,620.00 C138.03,617.08 136.00,613.63 134.50,611.30 C133.00,608.97 131.25,607.47 130.00,606.00 C128.75,604.53 127.88,603.83 127.00,602.50 C126.12,601.17 125.23,599.22 124.70,598.00 C124.17,596.78 123.95,595.67 123.80,595.20 Z" fill="#bfbfbf" stroke="#5a5a5a" stroke-width="0.7"/>
<line x1="123.5" y1="595.2" x2="123.5" y2="707.2" stroke="#777" stroke-width="0.6"/>
<rect x="122" y="621.4" width="3" height="19.3" fill="#000"/>
<rect x="123" y="628.5" width="1" height="1" fill="#fff"/>
<path d="M163.80,598.10 C163.60,598.25 162.93,598.27 162.60,599.00 C162.27,599.73 162.27,601.33 161.80,602.50 C161.33,603.67 160.72,604.53 159.80,606.00 C158.88,607.47 157.95,608.97 156.30,611.30 C154.65,613.63 151.30,617.08 149.90,620.00 C148.50,622.92 147.60,625.88 147.90,628.80 C148.20,631.72 150.42,634.58 151.70,637.50 C152.98,640.42 154.37,643.38 155.60,646.30 C156.83,649.22 158.07,652.08 159.10,655.00 C160.13,657.92 161.10,661.30 161.80,663.80 C162.50,666.30 162.88,668.55 163.30,670.00 C163.72,671.45 164.13,672.08 164.30,672.50 L165.30,672.50 C165.47,672.08 165.88,671.45 166.30,670.00 C166.72,668.55 167.10,666.30 167.80,663.80 C168.50,661.30 169.47,657.92 170.50,655.00 C171.53,652.08 172.77,649.22 174.00,646.30 C175.23,643.38 176.62,640.42 177.90,637.50 C179.18,634.58 181.40,631.72 181.70,628.80 C182.00,625.88 181.10,622.92 179.70,620.00 C178.30,617.08 174.95,613.63 173.30,611.30 C171.65,608.97 170.72,607.47 169.80,606.00 C168.88,604.53 168.27,603.67 167.80,602.50 C167.33,601.33 167.33,599.73 167.00,599.00 C166.67,598.27 166.00,598.25 165.80,598.10 Z" fill="#bfbfbf" stroke="#5a5a5a" stroke-width="0.7"/>
<line x1="164.8" y1="598.1" x2="164.8" y2="672.5" stroke="#777" stroke-width="0.6"/>
<rect x="163.3" y="622.1" width="3" height="22.8" fill="#000"/>
<rect x="164.3" y="628" width="1" height="1" fill="#fff"/>
<line x1="65.6" y1="707.3" x2="98.5" y2="707.3" stroke="#555" stroke-width="0.9"/>
<line x1="107" y1="707.3" x2="139.9" y2="707.3" stroke="#555" stroke-width="0.9"/>
<path d="M289.90,598.10 C289.52,598.75 288.69,600.35 287.65,602.00 C286.61,603.65 284.90,606.00 283.65,608.00 C282.40,610.00 281.00,612.13 280.15,614.00 C279.30,615.87 278.77,617.53 278.55,619.20 C278.33,620.87 278.57,622.40 278.85,624.00 C279.13,625.60 279.53,627.30 280.25,628.80 C280.97,630.30 282.25,631.53 283.15,633.00 C284.05,634.47 284.73,635.38 285.65,637.60 C286.57,639.82 287.90,643.40 288.65,646.30 C289.40,649.20 289.82,651.05 290.15,655.00 C290.48,658.95 290.48,665.47 290.65,670.00 C290.82,674.53 291.07,680.17 291.15,682.20 L292.15,682.20 C292.23,680.17 292.48,674.53 292.65,670.00 C292.82,665.47 292.82,658.95 293.15,655.00 C293.48,651.05 293.90,649.20 294.65,646.30 C295.40,643.40 296.73,639.82 297.65,637.60 C298.57,635.38 299.25,634.47 300.15,633.00 C301.05,631.53 302.33,630.30 303.05,628.80 C303.77,627.30 304.17,625.60 304.45,624.00 C304.73,622.40 304.97,620.87 304.75,619.20 C304.53,617.53 304.00,615.87 303.15,614.00 C302.30,612.13 300.90,610.00 299.65,608.00 C298.40,606.00 296.69,603.65 295.65,602.00 C294.61,600.35 293.77,598.75 293.40,598.10 Z" fill="#bfbfbf" stroke="#5a5a5a" stroke-width="0.7"/>
<line x1="291.65" y1="598.1" x2="291.65" y2="682.2" stroke="#777" stroke-width="0.6"/>
<rect x="290.15" y="615.1" width="3" height="15.8" fill="#000"/>
<rect x="291.15" y="620.8" width="1" height="1" fill="#fff"/>
<path d="M319.30,605.10 C318.68,605.92 316.77,608.18 315.60,610.00 C314.43,611.82 313.07,613.88 312.30,616.00 C311.53,618.12 310.95,620.37 311.00,622.70 C311.05,625.03 311.92,627.52 312.60,630.00 C313.28,632.48 314.10,634.88 315.10,637.60 C316.10,640.32 317.60,643.40 318.60,646.30 C319.60,649.20 320.43,652.08 321.10,655.00 C321.77,657.92 322.23,659.63 322.60,663.80 C322.97,667.97 323.13,672.70 323.30,680.00 C323.47,687.30 323.55,703.00 323.60,707.60 L324.60,707.60 C324.65,703.00 324.73,687.30 324.90,680.00 C325.07,672.70 325.23,667.97 325.60,663.80 C325.97,659.63 326.43,657.92 327.10,655.00 C327.77,652.08 328.60,649.20 329.60,646.30 C330.60,643.40 332.10,640.32 333.10,637.60 C334.10,634.88 334.92,632.48 335.60,630.00 C336.28,627.52 337.15,625.03 337.20,622.70 C337.25,620.37 336.67,618.12 335.90,616.00 C335.13,613.88 333.77,611.82 332.60,610.00 C331.43,608.18 329.52,605.92 328.90,605.10 Z" fill="#bfbfbf" stroke="#5a5a5a" stroke-width="0.7"/>
<line x1="324.1" y1="605.1" x2="324.1" y2="707.6" stroke="#777" stroke-width="0.6"/>
<rect x="322.6" y="617.9" width="3" height="20" fill="#000"/>
<rect x="323.6" y="626.5" width="1" height="1" fill="#fff"/>
<path d="M354.20,602.50 C353.57,603.42 351.78,605.92 350.40,608.00 C349.02,610.08 347.10,612.40 345.90,615.00 C344.70,617.60 343.28,621.10 343.20,623.60 C343.12,626.10 344.45,627.67 345.40,630.00 C346.35,632.33 347.73,633.98 348.90,637.60 C350.07,641.22 351.48,647.32 352.40,651.70 C353.32,656.08 353.90,660.02 354.40,663.90 C354.90,667.78 355.15,672.07 355.40,675.00 C355.65,677.93 355.82,680.42 355.90,681.50 L356.90,681.50 C356.98,680.42 357.15,677.93 357.40,675.00 C357.65,672.07 357.90,667.78 358.40,663.90 C358.90,660.02 359.48,656.08 360.40,651.70 C361.32,647.32 362.73,641.22 363.90,637.60 C365.07,633.98 366.45,632.33 367.40,630.00 C368.35,627.67 369.68,626.10 369.60,623.60 C369.52,621.10 368.10,617.60 366.90,615.00 C365.70,612.40 363.78,610.08 362.40,608.00 C361.02,605.92 359.23,603.42 358.60,602.50 Z" fill="#bfbfbf" stroke="#5a5a5a" stroke-width="0.7"/>
<line x1="356.4" y1="602.5" x2="356.4" y2="681.5" stroke="#777" stroke-width="0.6"/>
<rect x="354.9" y="620.1" width="3" height="20.7" fill="#000"/>
<rect x="355.9" y="627.5" width="1" height="1" fill="#fff"/>
<path d="M387.80,599.90 C387.63,600.25 387.38,600.98 386.80,602.00 C386.22,603.02 385.38,604.33 384.30,606.00 C383.22,607.67 381.55,610.00 380.30,612.00 C379.05,614.00 377.58,616.07 376.80,618.00 C376.02,619.93 375.60,621.60 375.60,623.60 C375.60,625.60 376.10,627.67 376.80,630.00 C377.50,632.33 378.63,633.98 379.80,637.60 C380.97,641.22 382.80,647.97 383.80,651.70 C384.80,655.43 385.22,656.95 385.80,660.00 C386.38,663.05 386.88,665.10 387.30,670.00 C387.72,674.90 388.13,686.17 388.30,689.40 L389.30,689.40 C389.47,686.17 389.88,674.90 390.30,670.00 C390.72,665.10 391.22,663.05 391.80,660.00 C392.38,656.95 392.80,655.43 393.80,651.70 C394.80,647.97 396.63,641.22 397.80,637.60 C398.97,633.98 400.10,632.33 400.80,630.00 C401.50,627.67 402.00,625.60 402.00,623.60 C402.00,621.60 401.58,619.93 400.80,618.00 C400.02,616.07 398.55,614.00 397.30,612.00 C396.05,610.00 394.38,607.67 393.30,606.00 C392.22,604.33 391.38,603.02 390.80,602.00 C390.22,600.98 389.97,600.25 389.80,599.90 Z" fill="#bfbfbf" stroke="#5a5a5a" stroke-width="0.7"/>
<line x1="388.8" y1="599.9" x2="388.8" y2="689.4" stroke="#777" stroke-width="0.6"/>
<rect x="387.3" y="621" width="3" height="19.8" fill="#000"/>
<rect x="388.3" y="628.5" width="1" height="1" fill="#fff"/>
<path d="M505.10,623.20 C504.50,624.00 502.77,626.03 501.50,628.00 C500.23,629.97 498.43,632.53 497.50,635.00 C496.57,637.47 495.98,640.30 495.90,642.80 C495.82,645.30 496.32,647.37 497.00,650.00 C497.68,652.63 498.83,655.42 500.00,658.60 C501.17,661.78 503.00,666.37 504.00,669.10 C505.00,671.83 505.50,673.25 506.00,675.00 C506.50,676.75 506.70,677.10 507.00,679.60 C507.30,682.10 507.55,686.63 507.80,690.00 C508.05,693.37 508.38,698.17 508.50,699.80 L509.50,699.80 C509.62,698.17 509.95,693.37 510.20,690.00 C510.45,686.63 510.70,682.10 511.00,679.60 C511.30,677.10 511.50,676.75 512.00,675.00 C512.50,673.25 513.00,671.83 514.00,669.10 C515.00,666.37 516.83,661.78 518.00,658.60 C519.17,655.42 520.32,652.63 521.00,650.00 C521.68,647.37 522.18,645.30 522.10,642.80 C522.02,640.30 521.43,637.47 520.50,635.00 C519.57,632.53 517.77,629.97 516.50,628.00 C515.23,626.03 513.50,624.00 512.90,623.20 Z" fill="#bfbfbf" stroke="#5a5a5a" stroke-width="0.7"/>
<line x1="509" y1="623.2" x2="509" y2="699.8" stroke="#777" stroke-width="0.6"/>
<rect x="507.5" y="639.3" width="3" height="17.5" fill="#000"/>
<rect x="508.5" y="644.5" width="1" height="1" fill="#fff"/>
<path d="M538.40,614.40 C537.82,615.33 536.07,617.73 534.90,620.00 C533.73,622.27 532.45,625.17 531.40,628.00 C530.35,630.83 529.18,634.08 528.60,637.00 C528.02,639.92 527.85,643.00 527.90,645.50 C527.95,648.00 528.32,649.53 528.90,652.00 C529.48,654.47 530.15,657.15 531.40,660.30 C532.65,663.45 535.07,667.62 536.40,670.90 C537.73,674.18 538.82,677.15 539.40,680.00 C539.98,682.85 539.77,686.17 539.90,688.00 C540.03,689.83 540.15,690.50 540.20,691.00 L542.60,691.00 C542.65,690.50 542.77,689.83 542.90,688.00 C543.03,686.17 542.82,682.85 543.40,680.00 C543.98,677.15 545.07,674.18 546.40,670.90 C547.73,667.62 550.15,663.45 551.40,660.30 C552.65,657.15 553.32,654.47 553.90,652.00 C554.48,649.53 554.85,648.00 554.90,645.50 C554.95,643.00 554.78,639.92 554.20,637.00 C553.62,634.08 552.45,630.83 551.40,628.00 C550.35,625.17 549.07,622.27 547.90,620.00 C546.73,617.73 544.98,615.33 544.40,614.40 Z" fill="#bfbfbf" stroke="#5a5a5a" stroke-width="0.7"/>
<line x1="541.4" y1="614.4" x2="541.4" y2="691" stroke="#777" stroke-width="0.6"/>
<rect x="539.9" y="636.7" width="3" height="21" fill="#000"/>
<rect x="540.9" y="646.5" width="1" height="1" fill="#fff"/>
<path d="M569.90,623.20 C569.20,624.33 566.98,627.53 565.70,630.00 C564.42,632.47 563.02,635.13 562.20,638.00 C561.38,640.87 560.80,644.37 560.80,647.20 C560.80,650.03 561.38,652.22 562.20,655.00 C563.02,657.78 564.62,661.07 565.70,663.90 C566.78,666.73 567.87,669.67 568.70,672.00 C569.53,674.33 570.17,675.73 570.70,677.90 C571.23,680.07 571.65,682.97 571.90,685.00 C572.15,687.03 572.03,687.60 572.20,690.10 C572.37,692.60 572.73,697.22 572.90,700.00 C573.07,702.78 573.15,705.67 573.20,706.80 L574.20,706.80 C574.25,705.67 574.33,702.78 574.50,700.00 C574.67,697.22 575.03,692.60 575.20,690.10 C575.37,687.60 575.25,687.03 575.50,685.00 C575.75,682.97 576.17,680.07 576.70,677.90 C577.23,675.73 577.87,674.33 578.70,672.00 C579.53,669.67 580.62,666.73 581.70,663.90 C582.78,661.07 584.38,657.78 585.20,655.00 C586.02,652.22 586.60,650.03 586.60,647.20 C586.60,644.37 586.02,640.87 585.20,638.00 C584.38,635.13 582.98,632.47 581.70,630.00 C580.42,627.53 578.20,624.33 577.50,623.20 Z" fill="#bfbfbf" stroke="#5a5a5a" stroke-width="0.7"/>
<line x1="573.7" y1="623.2" x2="573.7" y2="706.8" stroke="#777" stroke-width="0.6"/>
<rect x="572.2" y="641.1" width="3" height="21" fill="#000"/>
<rect x="573.2" y="649.5" width="1" height="1" fill="#fff"/>
<path d="M605.40,602.20 C605.28,602.83 605.07,604.53 604.70,606.00 C604.33,607.47 604.12,608.67 603.20,611.00 C602.28,613.33 600.62,616.83 599.20,620.00 C597.78,623.17 595.72,626.93 594.70,630.00 C593.68,633.07 593.23,635.57 593.10,638.40 C592.97,641.23 593.22,643.63 593.90,647.00 C594.58,650.37 596.15,655.43 597.20,658.60 C598.25,661.77 599.37,663.67 600.20,666.00 C601.03,668.33 601.62,670.27 602.20,672.60 C602.78,674.93 603.28,677.67 603.70,680.00 C604.12,682.33 604.37,681.98 604.70,686.60 C605.03,691.22 605.53,704.18 605.70,707.70 L606.70,707.70 C606.87,704.18 607.37,691.22 607.70,686.60 C608.03,681.98 608.28,682.33 608.70,680.00 C609.12,677.67 609.62,674.93 610.20,672.60 C610.78,670.27 611.37,668.33 612.20,666.00 C613.03,663.67 614.15,661.77 615.20,658.60 C616.25,655.43 617.82,650.37 618.50,647.00 C619.18,643.63 619.43,641.23 619.30,638.40 C619.17,635.57 618.72,633.07 617.70,630.00 C616.68,626.93 614.62,623.17 613.20,620.00 C611.78,616.83 610.12,613.33 609.20,611.00 C608.28,608.67 608.07,607.47 607.70,606.00 C607.33,604.53 607.12,602.83 607.00,602.20 Z" fill="#bfbfbf" stroke="#5a5a5a" stroke-width="0.7"/>
<line x1="606.2" y1="602.2" x2="606.2" y2="707.7" stroke="#777" stroke-width="0.6"/>
<rect x="604.7" y="634.6" width="3" height="22.2" fill="#000"/>
<rect x="605.7" y="640.5" width="1" height="1" fill="#fff"/>
<rect x="56.5" y="578.3" width="134.1" height="134.1" fill="none" stroke="#777" stroke-width="0.8"/>
<line x1="53" y1="707.3" x2="56.5" y2="707.3" stroke="#666" stroke-width="0.7"/>
<text x="50.1" y="707.3" font-size="5.8" text-anchor="middle" transform="rotate(-90 50.1 707.3)" stroke="#111" stroke-width="0.15">0</text>
<line x1="53" y1="687.65" x2="56.5" y2="687.65" stroke="#666" stroke-width="0.7"/>
<text x="50.1" y="687.65" font-size="5.8" text-anchor="middle" transform="rotate(-90 50.1 687.65)" stroke="#111" stroke-width="0.15">1</text>
<line x1="53" y1="668" x2="56.5" y2="668" stroke="#666" stroke-width="0.7"/>
<text x="50.1" y="668" font-size="5.8" text-anchor="middle" transform="rotate(-90 50.1 668)" stroke="#111" stroke-width="0.15">2</text>
<line x1="53" y1="648.35" x2="56.5" y2="648.35" stroke="#666" stroke-width="0.7"/>
<text x="50.1" y="648.35" font-size="5.8" text-anchor="middle" transform="rotate(-90 50.1 648.35)" stroke="#111" stroke-width="0.15">3</text>
<line x1="53" y1="628.7" x2="56.5" y2="628.7" stroke="#666" stroke-width="0.7"/>
<text x="50.1" y="628.7" font-size="5.8" text-anchor="middle" transform="rotate(-90 50.1 628.7)" stroke="#111" stroke-width="0.15">4</text>
<line x1="53" y1="609.05" x2="56.5" y2="609.05" stroke="#666" stroke-width="0.7"/>
<text x="50.1" y="609.05" font-size="5.8" text-anchor="middle" transform="rotate(-90 50.1 609.05)" stroke="#111" stroke-width="0.15">5</text>
<line x1="53" y1="589.4" x2="56.5" y2="589.4" stroke="#666" stroke-width="0.7"/>
<text x="50.1" y="589.4" font-size="5.8" text-anchor="middle" transform="rotate(-90 50.1 589.4)" stroke="#111" stroke-width="0.15">6</text>
<line x1="82.3" y1="712.4" x2="82.3" y2="715.4" stroke="#666" stroke-width="0.7"/>
<text x="82.3" y="725.2" font-size="5.8" text-anchor="middle" textLength="16.4" lengthAdjust="spacingAndGlyphs" stroke="#111" stroke-width="0.22">Stage II</text>
<line x1="123.7" y1="712.4" x2="123.7" y2="715.4" stroke="#666" stroke-width="0.7"/>
<text x="123.7" y="725.2" font-size="5.8" text-anchor="middle" textLength="17.6" lengthAdjust="spacingAndGlyphs" stroke="#111" stroke-width="0.22">Stage III</text>
<line x1="165.1" y1="712.4" x2="165.1" y2="715.4" stroke="#666" stroke-width="0.7"/>
<text x="165.1" y="725.2" font-size="5.8" text-anchor="middle" textLength="17.8" lengthAdjust="spacingAndGlyphs" stroke="#111" stroke-width="0.22">Stage IV</text>
<text x="182.2" y="585.7" font-size="5.7" text-anchor="end" fill="#000" textLength="38" lengthAdjust="spacingAndGlyphs" stroke="#000" stroke-width="0.15">F value = 4.21</text>
<text x="182.2" y="592.9" font-size="5.7" text-anchor="end" fill="#000" textLength="43.1" lengthAdjust="spacingAndGlyphs" stroke="#000" stroke-width="0.15">Pr(&gt;F) = 0.0154</text>
<text x="25" y="644.4" font-size="6.7" text-anchor="middle" transform="rotate(-90 25 644.4)" textLength="56.7" lengthAdjust="spacingAndGlyphs" stroke="#111" stroke-width="0.12">TERF2 expression</text>
<text x="34.5" y="644.4" font-size="6.9" text-anchor="middle" transform="rotate(-90 34.5 644.4)" textLength="44.5" lengthAdjust="spacingAndGlyphs" stroke="#111" stroke-width="0.12">Log2 (TPM+1)</text>
<text x="120.8" y="742.3" font-size="11.6" text-anchor="middle" textLength="14.4" lengthAdjust="spacingAndGlyphs">OV</text>
<rect x="270.4" y="578.3" width="140.3" height="134.1" fill="none" stroke="#777" stroke-width="0.8"/>
<line x1="266.9" y1="686.1" x2="270.4" y2="686.1" stroke="#666" stroke-width="0.7"/>
<text x="264" y="686.1" font-size="5.8" text-anchor="middle" transform="rotate(-90 264 686.1)" stroke="#111" stroke-width="0.15">2</text>
<line x1="266.9" y1="657.35" x2="270.4" y2="657.35" stroke="#666" stroke-width="0.7"/>
<text x="264" y="657.35" font-size="5.8" text-anchor="middle" transform="rotate(-90 264 657.35)" stroke="#111" stroke-width="0.15">3</text>
<line x1="266.9" y1="628.6" x2="270.4" y2="628.6" stroke="#666" stroke-width="0.7"/>
<text x="264" y="628.6" font-size="5.8" text-anchor="middle" transform="rotate(-90 264 628.6)" stroke="#111" stroke-width="0.15">4</text>
<line x1="266.9" y1="599.85" x2="270.4" y2="599.85" stroke="#666" stroke-width="0.7"/>
<text x="264" y="599.85" font-size="5.8" text-anchor="middle" transform="rotate(-90 264 599.85)" stroke="#111" stroke-width="0.15">5</text>
<line x1="291.5" y1="712.4" x2="291.5" y2="715.4" stroke="#666" stroke-width="0.7"/>
<text x="291.5" y="725.2" font-size="5.8" text-anchor="middle" textLength="15.4" lengthAdjust="spacingAndGlyphs" stroke="#111" stroke-width="0.22">Stage I</text>
<line x1="324.1" y1="712.4" x2="324.1" y2="715.4" stroke="#666" stroke-width="0.7"/>
<text x="324.1" y="725.2" font-size="5.8" text-anchor="middle" textLength="16.4" lengthAdjust="spacingAndGlyphs" stroke="#111" stroke-width="0.22">Stage II</text>
<line x1="356.3" y1="712.4" x2="356.3" y2="715.4" stroke="#666" stroke-width="0.7"/>
<text x="356.3" y="725.2" font-size="5.8" text-anchor="middle" textLength="17.6" lengthAdjust="spacingAndGlyphs" stroke="#111" stroke-width="0.22">Stage III</text>
<line x1="388.6" y1="712.4" x2="388.6" y2="715.4" stroke="#666" stroke-width="0.7"/>
<text x="388.6" y="725.2" font-size="5.8" text-anchor="middle" textLength="17.8" lengthAdjust="spacingAndGlyphs" stroke="#111" stroke-width="0.22">Stage IV</text>
<text x="402.3" y="587.5" font-size="5.7" text-anchor="end" fill="#000" textLength="32.3" lengthAdjust="spacingAndGlyphs" stroke="#000" stroke-width="0.15">F value = 6.33</text>
<text x="402.3" y="594.6" font-size="5.7" text-anchor="end" fill="#000" textLength="38.7" lengthAdjust="spacingAndGlyphs" stroke="#000" stroke-width="0.15">Pr(&gt;F) = 0.00032</text>
<text x="240.1" y="643.8" font-size="6.7" text-anchor="middle" transform="rotate(-90 240.1 643.8)" textLength="56.1" lengthAdjust="spacingAndGlyphs" stroke="#111" stroke-width="0.12">TERF2 expression</text>
<text x="249.2" y="643.8" font-size="6.9" text-anchor="middle" transform="rotate(-90 249.2 643.8)" textLength="44.5" lengthAdjust="spacingAndGlyphs" stroke="#111" stroke-width="0.12">Log2 (TPM+1)</text>
<text x="340.9" y="742.3" font-size="11.6" text-anchor="middle" textLength="21.6" lengthAdjust="spacingAndGlyphs">KIRC</text>
<rect x="487.6" y="578.3" width="140.3" height="134.1" fill="none" stroke="#777" stroke-width="0.8"/>
<line x1="484.1" y1="682.2" x2="487.6" y2="682.2" stroke="#666" stroke-width="0.7"/>
<text x="481.2" y="682.2" font-size="5.8" text-anchor="middle" transform="rotate(-90 481.2 682.2)" stroke="#111" stroke-width="0.15">3</text>
<line x1="484.1" y1="647.6" x2="487.6" y2="647.6" stroke="#666" stroke-width="0.7"/>
<text x="481.2" y="647.6" font-size="5.8" text-anchor="middle" transform="rotate(-90 481.2 647.6)" stroke="#111" stroke-width="0.15">4</text>
<line x1="484.1" y1="613" x2="487.6" y2="613" stroke="#666" stroke-width="0.7"/>
<text x="481.2" y="613" font-size="5.8" text-anchor="middle" transform="rotate(-90 481.2 613)" stroke="#111" stroke-width="0.15">5</text>
<line x1="484.1" y1="578.4" x2="487.6" y2="578.4" stroke="#666" stroke-width="0.7"/>
<text x="481.2" y="578.4" font-size="5.8" text-anchor="middle" transform="rotate(-90 481.2 578.4)" stroke="#111" stroke-width="0.15">6</text>
<line x1="508.7" y1="712.4" x2="508.7" y2="715.4" stroke="#666" stroke-width="0.7"/>
<text x="508.7" y="725.2" font-size="5.8" text-anchor="middle" textLength="15.4" lengthAdjust="spacingAndGlyphs" stroke="#111" stroke-width="0.22">Stage I</text>
<line x1="541" y1="712.4" x2="541" y2="715.4" stroke="#666" stroke-width="0.7"/>
<text x="541" y="725.2" font-size="5.8" text-anchor="middle" textLength="16.4" lengthAdjust="spacingAndGlyphs" stroke="#111" stroke-width="0.22">Stage II</text>
<line x1="573.2" y1="712.4" x2="573.2" y2="715.4" stroke="#666" stroke-width="0.7"/>
<text x="573.2" y="725.2" font-size="5.8" text-anchor="middle" textLength="17.6" lengthAdjust="spacingAndGlyphs" stroke="#111" stroke-width="0.22">Stage III</text>
<line x1="606.1" y1="712.4" x2="606.1" y2="715.4" stroke="#666" stroke-width="0.7"/>
<text x="606.1" y="725.2" font-size="5.8" text-anchor="middle" textLength="17.8" lengthAdjust="spacingAndGlyphs" stroke="#111" stroke-width="0.22">Stage IV</text>
<text x="619.9" y="589.2" font-size="5.7" text-anchor="end" fill="#000" textLength="32.8" lengthAdjust="spacingAndGlyphs" stroke="#000" stroke-width="0.15">F value = 3.56</text>
<text x="619.9" y="596.6" font-size="5.7" text-anchor="end" fill="#000" textLength="35.9" lengthAdjust="spacingAndGlyphs" stroke="#000" stroke-width="0.15">Pr(&gt;F) = 0.0142</text>
<text x="459.8" y="641.9" font-size="6.7" text-anchor="middle" transform="rotate(-90 459.8 641.9)" textLength="55.8" lengthAdjust="spacingAndGlyphs" stroke="#111" stroke-width="0.12">TERF2 expression</text>
<text x="469.9" y="641.9" font-size="6.9" text-anchor="middle" transform="rotate(-90 469.9 641.9)" textLength="44.5" lengthAdjust="spacingAndGlyphs" stroke="#111" stroke-width="0.12">Log2 (TPM+1)</text>
<text x="559.2" y="742.3" font-size="11.6" text-anchor="middle" textLength="27.2" lengthAdjust="spacingAndGlyphs">HNSC</text>
<rect x="683.6" y="451.6" width="1.4" height="2.6" fill="#999"/>
</svg></body></html>
